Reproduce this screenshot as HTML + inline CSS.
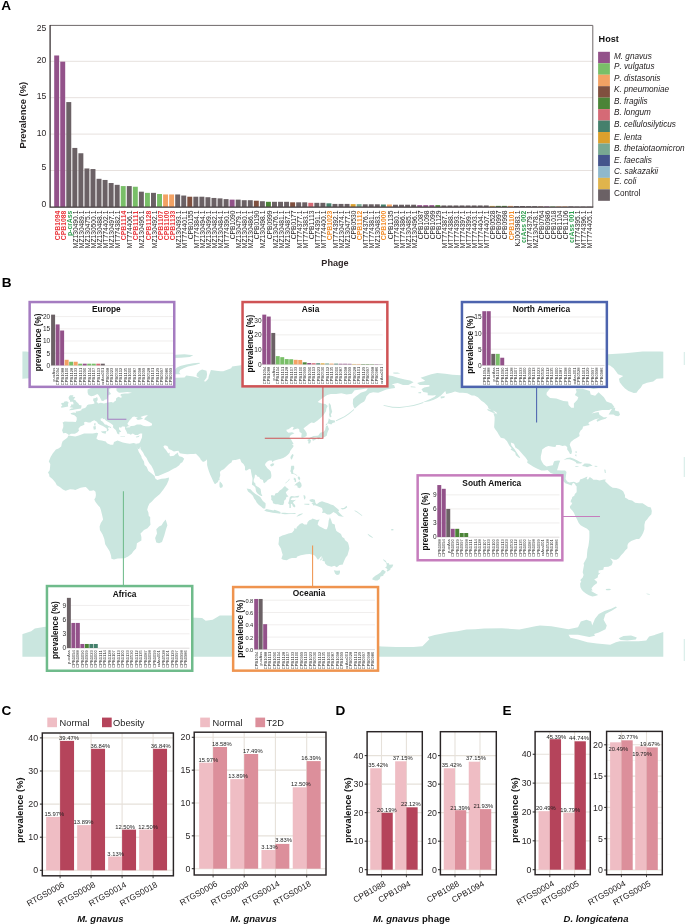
<!DOCTYPE html>
<html><head><meta charset="utf-8"><title>Figure</title>
<style>html,body{margin:0;padding:0;background:#fff}svg{display:block;will-change:transform}text{font-family:"Liberation Sans", sans-serif;font-kerning:none}</style>
</head><body>
<svg width="685" height="924" viewBox="0 0 685 924">
<rect width="685" height="924" fill="#fff"/>
<g id="panelA">
<text x="1.2" y="9.9" font-size="13.6" font-weight="700" fill="#000">A</text>
<line x1="50.1" x2="592.8" y1="170.5" y2="170.5" stroke="#e7e1de" stroke-width="1"/>
<line x1="50.1" x2="592.8" y1="134.1" y2="134.1" stroke="#e7e1de" stroke-width="1"/>
<line x1="50.1" x2="592.8" y1="97.7" y2="97.7" stroke="#e7e1de" stroke-width="1"/>
<line x1="50.1" x2="592.8" y1="61.3" y2="61.3" stroke="#e7e1de" stroke-width="1"/>
<rect x="54.2" y="55.48" width="4.95" height="151.42" fill="#93528a"/>
<rect x="60.25" y="61.66" width="4.95" height="145.24" fill="#93528a"/>
<rect x="66.3" y="102.07" width="4.95" height="104.83" fill="#6b6165"/>
<rect x="72.35" y="147.93" width="4.95" height="58.97" fill="#6b6165"/>
<rect x="78.4" y="153.25" width="4.95" height="53.65" fill="#6b6165"/>
<rect x="84.45" y="168.46" width="4.95" height="38.44" fill="#6b6165"/>
<rect x="90.5" y="169.04" width="4.95" height="37.86" fill="#6b6165"/>
<rect x="96.55" y="178.8" width="4.95" height="28.1" fill="#6b6165"/>
<rect x="102.6" y="179.96" width="4.95" height="26.94" fill="#6b6165"/>
<rect x="108.65" y="183.02" width="4.95" height="23.88" fill="#6b6165"/>
<rect x="114.7" y="184.84" width="4.95" height="22.06" fill="#6b6165"/>
<rect x="120.75" y="186.08" width="4.95" height="20.82" fill="#79bf68"/>
<rect x="126.8" y="186.08" width="4.95" height="20.82" fill="#6b6165"/>
<rect x="132.85" y="186.73" width="4.95" height="20.17" fill="#79bf68"/>
<rect x="138.9" y="191.68" width="4.95" height="15.22" fill="#6b6165"/>
<rect x="144.95" y="192.85" width="4.95" height="14.05" fill="#79bf68"/>
<rect x="151" y="192.85" width="4.95" height="14.05" fill="#6b6165"/>
<rect x="157.05" y="194.01" width="4.95" height="12.89" fill="#79bf68"/>
<rect x="163.1" y="194.45" width="4.95" height="12.45" fill="#f3a264"/>
<rect x="169.15" y="194.45" width="4.95" height="12.45" fill="#f3a264"/>
<rect x="175.2" y="194.45" width="4.95" height="12.45" fill="#6b6165"/>
<rect x="181.25" y="195.54" width="4.95" height="11.36" fill="#6b6165"/>
<rect x="187.3" y="196.71" width="4.95" height="10.19" fill="#80503f"/>
<rect x="193.35" y="196.71" width="4.95" height="10.19" fill="#6b6165"/>
<rect x="199.4" y="196.71" width="4.95" height="10.19" fill="#6b6165"/>
<rect x="205.45" y="197.22" width="4.95" height="9.68" fill="#6b6165"/>
<rect x="211.5" y="197.95" width="4.95" height="8.95" fill="#6b6165"/>
<rect x="217.55" y="198.38" width="4.95" height="8.52" fill="#6b6165"/>
<rect x="223.6" y="199.11" width="4.95" height="7.79" fill="#6b6165"/>
<rect x="229.65" y="199.62" width="4.95" height="7.28" fill="#93528a"/>
<rect x="235.7" y="199.62" width="4.95" height="7.28" fill="#6b6165"/>
<rect x="241.75" y="200.2" width="4.95" height="6.7" fill="#6b6165"/>
<rect x="247.8" y="200.2" width="4.95" height="6.7" fill="#6b6165"/>
<rect x="253.85" y="200.71" width="4.95" height="6.19" fill="#80503f"/>
<rect x="259.9" y="201.22" width="4.95" height="5.68" fill="#6b6165"/>
<rect x="265.95" y="201.8" width="4.95" height="5.1" fill="#4b8437"/>
<rect x="272" y="201.8" width="4.95" height="5.1" fill="#6b6165"/>
<rect x="278.05" y="201.8" width="4.95" height="5.1" fill="#6b6165"/>
<rect x="284.1" y="201.8" width="4.95" height="5.1" fill="#6b6165"/>
<rect x="290.15" y="202.31" width="4.95" height="4.59" fill="#80503f"/>
<rect x="296.2" y="202.31" width="4.95" height="4.59" fill="#6b6165"/>
<rect x="302.25" y="202.31" width="4.95" height="4.59" fill="#6b6165"/>
<rect x="308.3" y="202.82" width="4.95" height="4.08" fill="#d56a76"/>
<rect x="314.35" y="202.82" width="4.95" height="4.08" fill="#6b6165"/>
<rect x="320.4" y="202.82" width="4.95" height="4.08" fill="#6b6165"/>
<rect x="326.45" y="203.33" width="4.95" height="3.57" fill="#45806c"/>
<rect x="332.5" y="203.92" width="4.95" height="2.98" fill="#6b6165"/>
<rect x="338.55" y="203.92" width="4.95" height="2.98" fill="#6b6165"/>
<rect x="344.6" y="203.92" width="4.95" height="2.98" fill="#6b6165"/>
<rect x="350.65" y="204.13" width="4.95" height="2.77" fill="#dba02d"/>
<rect x="356.7" y="204.13" width="4.95" height="2.77" fill="#78a892"/>
<rect x="362.75" y="204.28" width="4.95" height="2.62" fill="#6b6165"/>
<rect x="368.8" y="204.28" width="4.95" height="2.62" fill="#6b6165"/>
<rect x="374.85" y="204.28" width="4.95" height="2.62" fill="#6b6165"/>
<rect x="380.9" y="204.5" width="4.95" height="2.4" fill="#45806c"/>
<rect x="386.95" y="204.5" width="4.95" height="2.4" fill="#f3a264"/>
<rect x="393" y="204.72" width="4.95" height="2.18" fill="#6b6165"/>
<rect x="399.05" y="204.72" width="4.95" height="2.18" fill="#6b6165"/>
<rect x="405.1" y="204.72" width="4.95" height="2.18" fill="#6b6165"/>
<rect x="411.15" y="204.72" width="4.95" height="2.18" fill="#6b6165"/>
<rect x="417.2" y="205.15" width="4.95" height="1.75" fill="#93528a"/>
<rect x="423.25" y="205.15" width="4.95" height="1.75" fill="#93528a"/>
<rect x="429.3" y="205.15" width="4.95" height="1.75" fill="#93528a"/>
<rect x="435.35" y="205.15" width="4.95" height="1.75" fill="#4b8437"/>
<rect x="441.4" y="205.44" width="4.95" height="1.46" fill="#6b6165"/>
<rect x="447.45" y="205.44" width="4.95" height="1.46" fill="#6b6165"/>
<rect x="453.5" y="205.44" width="4.95" height="1.46" fill="#6b6165"/>
<rect x="459.55" y="205.44" width="4.95" height="1.46" fill="#6b6165"/>
<rect x="465.6" y="205.44" width="4.95" height="1.46" fill="#6b6165"/>
<rect x="471.65" y="205.44" width="4.95" height="1.46" fill="#6b6165"/>
<rect x="477.7" y="205.44" width="4.95" height="1.46" fill="#6b6165"/>
<rect x="483.75" y="205.44" width="4.95" height="1.46" fill="#6b6165"/>
<rect x="489.8" y="205.88" width="4.95" height="1.02" fill="#e0b44c"/>
<rect x="495.85" y="205.88" width="4.95" height="1.02" fill="#4b8437"/>
<rect x="501.9" y="205.88" width="4.95" height="1.02" fill="#4b8437"/>
<rect x="507.95" y="205.88" width="4.95" height="1.02" fill="#f3a264"/>
<rect x="514" y="206.03" width="4.95" height="0.87" fill="#6b6165"/>
<rect x="520.05" y="206.03" width="4.95" height="0.87" fill="#6b6165"/>
<rect x="526.1" y="206.17" width="4.95" height="0.73" fill="#6b6165"/>
<rect x="532.15" y="206.17" width="4.95" height="0.73" fill="#6b6165"/>
<rect x="538.2" y="206.39" width="4.95" height="0.51" fill="#80503f"/>
<rect x="544.25" y="206.39" width="4.95" height="0.51" fill="#93528a"/>
<rect x="550.3" y="206.39" width="4.95" height="0.51" fill="#79bf68"/>
<rect x="556.35" y="206.39" width="4.95" height="0.51" fill="#f3a264"/>
<rect x="562.4" y="206.39" width="4.95" height="0.51" fill="#f3a264"/>
<rect x="568.45" y="206.39" width="4.95" height="0.51" fill="#6b6165"/>
<rect x="574.5" y="206.54" width="4.95" height="0.36" fill="#6b6165"/>
<rect x="580.55" y="206.54" width="4.95" height="0.36" fill="#6b6165"/>
<rect x="586.6" y="206.54" width="4.95" height="0.36" fill="#6b6165"/>
<text transform="translate(59.78,210.6) rotate(-90)" text-anchor="end" font-size="6.85" font-weight="700" fill="#e9353b">CPB1094</text>
<text transform="translate(65.83,210.6) rotate(-90)" text-anchor="end" font-size="6.85" font-weight="700" fill="#e9353b">CPB1088</text>
<text transform="translate(71.87,210.6) rotate(-90)" text-anchor="end" font-size="6.85" font-weight="700" fill="#2f9e4f">p-crAss</text>
<text transform="translate(77.92,210.6) rotate(-90)" text-anchor="end" font-size="6.7" fill="#262223">MZ130490.1</text>
<text transform="translate(83.97,210.6) rotate(-90)" text-anchor="end" font-size="6.7" fill="#262223">MZ130489.1</text>
<text transform="translate(90.02,210.6) rotate(-90)" text-anchor="end" font-size="6.7" fill="#262223">MZ130475.1</text>
<text transform="translate(96.07,210.6) rotate(-90)" text-anchor="end" font-size="6.7" fill="#262223">MZ130500.1</text>
<text transform="translate(102.12,210.6) rotate(-90)" text-anchor="end" font-size="6.7" fill="#262223">MZ130488.1</text>
<text transform="translate(108.17,210.6) rotate(-90)" text-anchor="end" font-size="6.7" fill="#262223">MT774402.1</text>
<text transform="translate(114.22,210.6) rotate(-90)" text-anchor="end" font-size="6.7" fill="#262223">MZ130497.1</text>
<text transform="translate(120.27,210.6) rotate(-90)" text-anchor="end" font-size="6.7" fill="#262223">MT774382.1</text>
<text transform="translate(126.32,210.6) rotate(-90)" text-anchor="end" font-size="6.85" font-weight="700" fill="#e9353b">CPB1114</text>
<text transform="translate(132.38,210.6) rotate(-90)" text-anchor="end" font-size="6.7" fill="#262223">MT774406.1</text>
<text transform="translate(138.42,210.6) rotate(-90)" text-anchor="end" font-size="6.85" font-weight="700" fill="#e9353b">CPB1111</text>
<text transform="translate(144.47,210.6) rotate(-90)" text-anchor="end" font-size="6.7" fill="#262223">MZ130495.1</text>
<text transform="translate(150.52,210.6) rotate(-90)" text-anchor="end" font-size="6.85" font-weight="700" fill="#e9353b">CPB1128</text>
<text transform="translate(156.57,210.6) rotate(-90)" text-anchor="end" font-size="6.7" fill="#262223">MZ130492.1</text>
<text transform="translate(162.62,210.6) rotate(-90)" text-anchor="end" font-size="6.85" font-weight="700" fill="#e9353b">CPB1107</text>
<text transform="translate(168.67,210.6) rotate(-90)" text-anchor="end" font-size="6.85" font-weight="700" fill="#e9353b">CPB1100</text>
<text transform="translate(174.72,210.6) rotate(-90)" text-anchor="end" font-size="6.85" font-weight="700" fill="#e9353b">CPB1133</text>
<text transform="translate(180.77,210.6) rotate(-90)" text-anchor="end" font-size="6.7" fill="#262223">MZ130493.1</text>
<text transform="translate(186.82,210.6) rotate(-90)" text-anchor="end" font-size="6.7" fill="#262223">MT774401.1</text>
<text transform="translate(192.88,210.6) rotate(-90)" text-anchor="end" font-size="6.7" fill="#262223">CPB0155</text>
<text transform="translate(198.93,210.6) rotate(-90)" text-anchor="end" font-size="6.7" fill="#262223">MT774384.1</text>
<text transform="translate(204.97,210.6) rotate(-90)" text-anchor="end" font-size="6.7" fill="#262223">MZ130494.1</text>
<text transform="translate(211.02,210.6) rotate(-90)" text-anchor="end" font-size="6.7" fill="#262223">MZ130499.1</text>
<text transform="translate(217.07,210.6) rotate(-90)" text-anchor="end" font-size="6.7" fill="#262223">MZ130482.1</text>
<text transform="translate(223.12,210.6) rotate(-90)" text-anchor="end" font-size="6.7" fill="#262223">MZ130484.1</text>
<text transform="translate(229.18,210.6) rotate(-90)" text-anchor="end" font-size="6.7" fill="#262223">MT774390.1</text>
<text transform="translate(235.22,210.6) rotate(-90)" text-anchor="end" font-size="6.7" fill="#262223">CPB1090</text>
<text transform="translate(241.27,210.6) rotate(-90)" text-anchor="end" font-size="6.7" fill="#262223">MZ130479.1</text>
<text transform="translate(247.32,210.6) rotate(-90)" text-anchor="end" font-size="6.7" fill="#262223">MZ130480.1</text>
<text transform="translate(253.38,210.6) rotate(-90)" text-anchor="end" font-size="6.7" fill="#262223">MZ130486.1</text>
<text transform="translate(259.43,210.6) rotate(-90)" text-anchor="end" font-size="6.7" fill="#262223">CPB0190</text>
<text transform="translate(265.48,210.6) rotate(-90)" text-anchor="end" font-size="6.7" fill="#262223">MZ130498.1</text>
<text transform="translate(271.53,210.6) rotate(-90)" text-anchor="end" font-size="6.7" fill="#262223">CPB0999</text>
<text transform="translate(277.58,210.6) rotate(-90)" text-anchor="end" font-size="6.7" fill="#262223">MZ130476.1</text>
<text transform="translate(283.63,210.6) rotate(-90)" text-anchor="end" font-size="6.7" fill="#262223">MZ130481.1</text>
<text transform="translate(289.68,210.6) rotate(-90)" text-anchor="end" font-size="6.7" fill="#262223">MZ130487.1</text>
<text transform="translate(295.73,210.6) rotate(-90)" text-anchor="end" font-size="6.7" fill="#262223">CPB0177</text>
<text transform="translate(301.78,210.6) rotate(-90)" text-anchor="end" font-size="6.7" fill="#262223">MT774377.1</text>
<text transform="translate(307.83,210.6) rotate(-90)" text-anchor="end" font-size="6.7" fill="#262223">MT774383.1</text>
<text transform="translate(313.88,210.6) rotate(-90)" text-anchor="end" font-size="6.7" fill="#262223">CPB1113</text>
<text transform="translate(319.93,210.6) rotate(-90)" text-anchor="end" font-size="6.7" fill="#262223">MT774391.1</text>
<text transform="translate(325.98,210.6) rotate(-90)" text-anchor="end" font-size="6.7" fill="#262223">MT774400.1</text>
<text transform="translate(332.03,210.6) rotate(-90)" text-anchor="end" font-size="6.85" font-weight="700" fill="#f28c28">CPB1023</text>
<text transform="translate(338.08,210.6) rotate(-90)" text-anchor="end" font-size="6.7" fill="#262223">MT774392.1</text>
<text transform="translate(344.12,210.6) rotate(-90)" text-anchor="end" font-size="6.7" fill="#262223">MZ130474.1</text>
<text transform="translate(350.18,210.6) rotate(-90)" text-anchor="end" font-size="6.7" fill="#262223">MZ130477.1</text>
<text transform="translate(356.23,210.6) rotate(-90)" text-anchor="end" font-size="6.7" fill="#262223">CPB0530</text>
<text transform="translate(362.28,210.6) rotate(-90)" text-anchor="end" font-size="6.85" font-weight="700" fill="#f28c28">CPB1112</text>
<text transform="translate(368.33,210.6) rotate(-90)" text-anchor="end" font-size="6.7" fill="#262223">MT774376.1</text>
<text transform="translate(374.38,210.6) rotate(-90)" text-anchor="end" font-size="6.7" fill="#262223">MT774381.1</text>
<text transform="translate(380.43,210.6) rotate(-90)" text-anchor="end" font-size="6.7" fill="#262223">MZ130483.1</text>
<text transform="translate(386.48,210.6) rotate(-90)" text-anchor="end" font-size="6.85" font-weight="700" fill="#f28c28">CPB1000</text>
<text transform="translate(392.53,210.6) rotate(-90)" text-anchor="end" font-size="6.7" fill="#262223">CPB1135</text>
<text transform="translate(398.58,210.6) rotate(-90)" text-anchor="end" font-size="6.7" fill="#262223">MT774380.1</text>
<text transform="translate(404.62,210.6) rotate(-90)" text-anchor="end" font-size="6.7" fill="#262223">MT774386.1</text>
<text transform="translate(410.68,210.6) rotate(-90)" text-anchor="end" font-size="6.7" fill="#262223">MZ130485.1</text>
<text transform="translate(416.73,210.6) rotate(-90)" text-anchor="end" font-size="6.7" fill="#262223">MZ130496.1</text>
<text transform="translate(422.78,210.6) rotate(-90)" text-anchor="end" font-size="6.7" fill="#262223">CPB1087</text>
<text transform="translate(428.83,210.6) rotate(-90)" text-anchor="end" font-size="6.7" fill="#262223">CPB1098</text>
<text transform="translate(434.88,210.6) rotate(-90)" text-anchor="end" font-size="6.7" fill="#262223">CPB1099</text>
<text transform="translate(440.93,210.6) rotate(-90)" text-anchor="end" font-size="6.7" fill="#262223">CPB1129</text>
<text transform="translate(446.98,210.6) rotate(-90)" text-anchor="end" font-size="6.7" fill="#262223">MT774387.1</text>
<text transform="translate(453.03,210.6) rotate(-90)" text-anchor="end" font-size="6.7" fill="#262223">MT774388.1</text>
<text transform="translate(459.08,210.6) rotate(-90)" text-anchor="end" font-size="6.7" fill="#262223">MT774393.1</text>
<text transform="translate(465.12,210.6) rotate(-90)" text-anchor="end" font-size="6.7" fill="#262223">MT774397.1</text>
<text transform="translate(471.18,210.6) rotate(-90)" text-anchor="end" font-size="6.7" fill="#262223">MT774399.1</text>
<text transform="translate(477.23,210.6) rotate(-90)" text-anchor="end" font-size="6.7" fill="#262223">MT774403.1</text>
<text transform="translate(483.28,210.6) rotate(-90)" text-anchor="end" font-size="6.7" fill="#262223">MT774404.1</text>
<text transform="translate(489.33,210.6) rotate(-90)" text-anchor="end" font-size="6.7" fill="#262223">MT774407.1</text>
<text transform="translate(495.38,210.6) rotate(-90)" text-anchor="end" font-size="6.7" fill="#262223">CPB0528</text>
<text transform="translate(501.43,210.6) rotate(-90)" text-anchor="end" font-size="6.7" fill="#262223">CPB0997</text>
<text transform="translate(507.48,210.6) rotate(-90)" text-anchor="end" font-size="6.7" fill="#262223">CPB0998</text>
<text transform="translate(513.52,210.6) rotate(-90)" text-anchor="end" font-size="6.85" font-weight="700" fill="#f28c28">CPB1101</text>
<text transform="translate(519.58,210.6) rotate(-90)" text-anchor="end" font-size="6.7" fill="#262223">KJ003983.1</text>
<text transform="translate(525.62,210.6) rotate(-90)" text-anchor="end" font-size="6.85" font-weight="700" fill="#2f9e4f">crAss 002</text>
<text transform="translate(531.68,210.6) rotate(-90)" text-anchor="end" font-size="6.7" fill="#262223">MT774379.1</text>
<text transform="translate(537.73,210.6) rotate(-90)" text-anchor="end" font-size="6.7" fill="#262223">MZ130478.1</text>
<text transform="translate(543.78,210.6) rotate(-90)" text-anchor="end" font-size="6.7" fill="#262223">CPB0764</text>
<text transform="translate(549.83,210.6) rotate(-90)" text-anchor="end" font-size="6.7" fill="#262223">CPB0986</text>
<text transform="translate(555.88,210.6) rotate(-90)" text-anchor="end" font-size="6.7" fill="#262223">CPB1018</text>
<text transform="translate(561.93,210.6) rotate(-90)" text-anchor="end" font-size="6.7" fill="#262223">CPB1104</text>
<text transform="translate(567.98,210.6) rotate(-90)" text-anchor="end" font-size="6.7" fill="#262223">CPB1106</text>
<text transform="translate(574.03,210.6) rotate(-90)" text-anchor="end" font-size="6.85" font-weight="700" fill="#2f9e4f">crAss 001</text>
<text transform="translate(580.08,210.6) rotate(-90)" text-anchor="end" font-size="6.7" fill="#262223">MT774395.1</text>
<text transform="translate(586.13,210.6) rotate(-90)" text-anchor="end" font-size="6.7" fill="#262223">MT774396.1</text>
<text transform="translate(592.18,210.6) rotate(-90)" text-anchor="end" font-size="6.7" fill="#262223">MT774405.1</text>
<path d="M50.1 25.4H592.8V207.1" fill="none" stroke="#6e686a" stroke-width="1"/>
<path d="M50.1 24.9V207.1H593.3" fill="none" stroke="#3c3537" stroke-width="1.3"/>
<text x="46.2" y="30.55" text-anchor="end" font-size="8.6" fill="#2b2627">25</text>
<text x="46.2" y="62.65" text-anchor="end" font-size="8.6" fill="#2b2627">20</text>
<text x="46.2" y="99.45" text-anchor="end" font-size="8.6" fill="#2b2627">15</text>
<text x="46.2" y="135.85" text-anchor="end" font-size="8.6" fill="#2b2627">10</text>
<text x="46.2" y="170.05" text-anchor="end" font-size="8.6" fill="#2b2627">5</text>
<text x="46.2" y="207.45" text-anchor="end" font-size="8.6" fill="#2b2627">0</text>
<text transform="translate(26.1,115.2) rotate(-90)" text-anchor="middle" font-size="9.4" font-weight="700" fill="#231f20">Prevalence (%)</text>
<text x="335" y="266" text-anchor="middle" font-size="9.1" font-weight="700" fill="#2e2526">Phage</text>
<text x="598.6" y="42.3" font-size="9.1" font-weight="700" fill="#111">Host</text>
<rect x="598.1" y="51.8" width="11.8" height="11.5" fill="#93528a"/>
<text x="614" y="58.9" font-size="8.2" font-style="italic" fill="#1f1b1c">M. gnavus</text>
<rect x="598.1" y="63.26" width="11.8" height="11.5" fill="#79bf68"/>
<text x="614" y="68.9" font-size="8.2" font-style="italic" fill="#1f1b1c">P. vulgatus</text>
<rect x="598.1" y="74.72" width="11.8" height="11.5" fill="#f3a264"/>
<text x="614" y="80.6" font-size="8.2" font-style="italic" fill="#1f1b1c">P. distasonis</text>
<rect x="598.1" y="86.18" width="11.8" height="11.5" fill="#80503f"/>
<text x="614" y="91.8" font-size="8.2" font-style="italic" fill="#1f1b1c">K. pneumoniae</text>
<rect x="598.1" y="97.64" width="11.8" height="11.5" fill="#4b8437"/>
<text x="614" y="103.6" font-size="8.2" font-style="italic" fill="#1f1b1c">B. fragilis</text>
<rect x="598.1" y="109.1" width="11.8" height="11.5" fill="#d56a76"/>
<text x="614" y="115.4" font-size="8.2" font-style="italic" fill="#1f1b1c">B. longum</text>
<rect x="598.1" y="120.56" width="11.8" height="11.5" fill="#45806c"/>
<text x="614" y="127.3" font-size="8.2" font-style="italic" fill="#1f1b1c">B. cellulosilyticus</text>
<rect x="598.1" y="132.02" width="11.8" height="11.5" fill="#dba02d"/>
<text x="614" y="139.7" font-size="8.2" font-style="italic" fill="#1f1b1c">E. lenta</text>
<rect x="598.1" y="143.48" width="11.8" height="11.5" fill="#78a892"/>
<text x="614" y="151.2" font-size="8.2" font-style="italic" fill="#1f1b1c">B. thetaiotaomicron</text>
<rect x="598.1" y="154.94" width="11.8" height="11.5" fill="#44548c"/>
<text x="614" y="162.7" font-size="8.2" font-style="italic" fill="#1f1b1c">E. faecalis</text>
<rect x="598.1" y="166.4" width="11.8" height="11.5" fill="#8fb8cc"/>
<text x="614" y="173.6" font-size="8.2" font-style="italic" fill="#1f1b1c">C. sakazakii</text>
<rect x="598.1" y="177.86" width="11.8" height="11.5" fill="#e0b44c"/>
<text x="614" y="184.4" font-size="8.2" font-style="italic" fill="#1f1b1c">E. coli</text>
<rect x="598.1" y="189.32" width="11.8" height="11.5" fill="#6b6165"/>
<text x="614" y="196.3" font-size="8.2" fill="#1f1b1c">Control</text>
</g>
<text x="1.8" y="286.9" font-size="13.6" font-weight="700" fill="#000">B</text>
<defs><clipPath id="mapclip"><rect x="22.4" y="351.0" width="640.9" height="305.8"/></clipPath></defs>
<g id="map" clip-path="url(#mapclip)">
<path fill="#cae6df" d="M68.4 435.4L75.3 436.4L78.8 435.4L84.1 433.6L92.9 433.5L96.4 432.8L98.2 433.3L97.3 435.9L96.4 438.6L98.2 440L101.7 440.5L105.8 441.6L107 443.3L110.5 444.7L113.2 444.7L114 442.1L117.6 440.5L122.8 442.4L126.4 443.3L129.9 443.8L133.4 443L135.7 443.5L136.1 445.6L137.8 449.1L138.7 451.8L141.4 456.2L141.7 457.9L144 461.4L144.5 465L146.6 466.7L148.4 471.1L151 472.9L154.6 476L155.1 478.2L157.2 479.9L161.6 478.7L165.1 478.5L169 477.6L168.7 480.1L166.9 484.3L163.4 489.6L159.9 494L154.6 498.4L151.9 501.6L149.3 503.7L148 506.7L147.2 509.8L148.4 512.5L148.8 516L150.2 516.9L150.2 521.3L150.5 524.8L147.5 528.3L144 530.1L140.5 533.6L141.4 537.1L141.4 540.6L136.9 543.3L136.6 545.9L136.1 548.6L133.4 551.2L131.7 553.8L128.1 556.5L124.6 558.2L117.6 558.6L114 559.6L111.4 558.8L111 555.6L109.6 551.2L107.9 548.6L105.2 544.2L104.3 538.9L102.6 534.5L99.9 530.1L99.6 526.6L100.8 523L103.1 519.5L102.1 515.1L100.8 509.8L99.9 507.2L98.2 505.4L95.5 501.9L94.3 499.6L95.5 497.5L95.9 494.9L95.5 491.7L93.8 490.3L91.1 490.7L89.4 490.8L87.6 488.7L85.8 487.1L83.2 487.3L80.6 487.8L77 489.2L75.3 490L73.5 489.4L70 489.2L65.6 490.7L62.9 489.6L59.8 487L56.8 485.2L55.4 482.6L53.3 479.9L52.4 479L49.4 476.6L49.2 474.6L48 472.5L49.7 470.2L50.1 466.7L50.3 464.1L48.8 461.4L50.6 457L52.7 453.5L55.9 449.6L58.5 448.6L61.2 446.5L61.7 443.8L62.6 441.2L65.6 439.1L67.3 437.7ZM165.7 519.5L167.4 525.3L166 529.2L164.3 535.4L162 542L159 543.3L156.3 542.4L155.1 538L157 533.6L156.3 529.2L159 526.6L161.6 525.2L163.4 522.2ZM62.1 430.3L63.1 433.3L65.8 432.9L67.7 434L68.9 435L71 433.8L74.9 433.8L77.6 432.2L79.2 430.3L78.3 428.9L80.2 426.6L84.4 424.7L84.1 422.2L85.8 421.8L88.3 422.4L90.4 422.5L92 421.3L94.3 420.3L96.9 421.8L98.2 423.8L100.5 425L102.9 425.9L105.2 427.6L106.5 428.2L107 430.1L106.5 431.5L107.9 431L108.9 429.8L108 428.4L108.8 427.1L111.2 428.2L111 427.1L107.9 425.7L107 424.7L104.9 424.5L102.8 421.8L100.8 420.6L100.5 418.7L102.8 418L102.8 419.2L104.3 418.8L105.8 420.6L107.9 421.8L110.2 423.1L112.3 424.5L113.2 425.4L113 427.3L114 428.5L115.8 430.1L116.3 431L116.9 432.4L117.2 433.6L118.4 434.2L119.5 434.2L119.1 432.4L120.2 431.9L121.3 432L120.4 430.8L119 429.2L119 427.3L120.2 427.6L121.1 427.8L122 426.4L124.6 426.4L125.1 427.6L125 428.9L126 430.6L126.9 432.4L127.3 433.8L129 433.8L130.8 434.7L132.7 433.6L135.2 434.9L137.8 434.9L140.1 433.6L142.2 433.6L142.1 435.9L141.9 437.7L140.8 440.3L140.1 442.1L139.2 443.3L136.1 443.7L136.1 445.6L137.3 448.2L139.1 449.6L140.3 446.5L140.5 449.1L143.1 452.6L144.5 455.6L146.6 457.9L147.7 460.6L149.3 463.2L151.4 465.8L153.3 469.4L154.2 472L155.1 475L155.4 476L158.1 475.9L161.6 474.6L165.1 472.9L168.7 471.5L170.8 470.2L173.9 468.5L176.2 467.6L179.2 465.3L180.6 463.2L182.4 462.3L184.2 458.8L182.2 456.9L179.2 456.2L178.2 454.4L178 452.1L177.5 453L175.7 453.9L173.9 455.8L170.4 456.2L169.5 455.3L169.7 452.6L168.3 453.5L167.1 451.8L166 450L164.3 448.2L163.4 446.5L164.3 445.6L166 445.4L167.8 446.5L168.7 449.1L171.3 450L173.9 451.4L176.6 450.9L178.4 450.7L179.8 453.2L182.8 453.7L187.2 454.2L190.7 453.9L193.3 453.9L196 453.7L196.9 454.8L198.6 456.5L199.5 457.6L200.4 458.8L200.4 459.3L202.7 461.8L203.9 461.8L206 460.6L206.7 459.2L207.1 461.4L207.1 465L208 468.5L208.8 471.1L210.1 474.6L211.5 477.6L213.2 481.2L214.5 483.8L215.4 484.1L216.6 482.9L218 482L218.5 480.3L219.6 480.3L219.4 478.2L220.3 475.3L219.9 472L221.2 470.6L223.8 469.2L226.8 466.2L229.1 463.9L231.7 462.3L232.1 460.6L234.2 460L235.6 459.9L238.3 459.2L240 458.8L240.9 460.9L241.4 462.3L243.5 464.1L245 466.7L245 470.2L246.7 470.6L249.4 468.8L250.8 469.4L251.1 472L251.8 475.5L252.5 478.2L252.4 480.8L252 483.4L252 484.7L254.1 486.1L255.5 487.8L255.7 489.6L256.2 491.7L257.5 493.5L259.4 494.9L261.2 496.1L262.4 495.9L261.2 493.5L261 491.4L260.6 489.1L258.9 487.5L256.8 486.3L255.5 485.2L255.4 483.4L253.8 482L253.6 479.9L254.6 477.6L255 474.6L256.8 475.2L256.8 476.2L259.1 476.9L260.3 478.9L262.9 480.1L263.5 482.6L264.2 483.3L266.5 481.5L267.7 480.1L270.9 478.3L271.4 475.9L271.2 473.9L270.7 471.5L269.4 469.9L267.3 468.3L266.3 466.7L265 465L265.6 463.2L267.3 461.6L269.1 460.4L271.7 460.4L272.6 462.5L273.5 460.9L276.1 460L278.8 459.3L280.2 459L283.2 458.1L285.8 456.5L287.9 454.8L289.5 453L290.2 450.9L292 448.6L293.4 446.8L293.4 445.2L291.6 444.7L293.6 444L292.5 442.1L291.1 439.4L289.4 437.2L290.8 435L294.5 433.3L292 432.2L288.5 432.8L286.7 431.2L286.4 429.8L288.5 429.2L292 426.8L293.8 427.1L292.5 429.8L294.1 429.4L297.3 428.4L299.1 428.9L299.6 431.9L301.7 433.3L301.3 436.8L301.7 437.9L304.3 437.2L306.6 435.9L306.8 433.3L305.2 430.6L303.5 428.5L305.2 427.1L307.3 425.4L309.1 424L311.4 422.4L314 423.1L317.6 420.4L321.1 417.4L323.7 414.8L326 411.3L326.4 408.6L327.8 406L325.5 403.9L322 403.4L320.2 403L317.6 402.1L320.2 399.8L323.7 397.2L327.2 395.1L330.8 394L336.1 394L341.3 393.3L346.6 394.6L351.9 393.7L354.6 390.2L360.7 389.6L366 388.4L367.8 388.4L366 391L360.7 392.8L355.4 396.7L353.1 399L352.8 403.4L353.7 406.9L354.9 408.6L357.7 406L360.7 403.4L364.2 401.6L365.5 399.3L366.5 396.3L369.5 393.2L373.1 392.3L378.3 392.8L382.7 391L386.3 389.6L391.6 388.4L395.1 388L394.2 385.2L391.6 384.4L395.1 383.6L397.7 383.1L403 384.9L408.3 384.9L413.6 382.2L410.1 380.5L404.8 379.6L397.7 377.8L392.4 376.1L387.2 375.2L379.2 375.2L378.3 377L371.3 376.1L364.2 375.7L360.7 375.7L355.4 373.4L346.6 373.4L343.1 371.7L334.3 370.8L325.5 370.4L320.2 372.6L313.1 372.6L307.9 373.4L305.2 370.8L300.8 369L295.5 369.4L288.5 369.7L281.4 368.7L278.8 367.3L276.1 364.6L269.1 362.9L262.6 361.6L256.8 363.8L249.7 364.6L240.9 365.2L232.1 366.4L231.2 368.2L223.3 371.3L220.6 371.2L216.2 370.8L210.9 370.1L210.1 372.6L208.8 376.1L208.3 378.7L205.7 381.4L203.9 381.2L206.5 377.8L207.1 374.3L206.5 370.8L202.1 369.6L199.5 370.8L196.9 373.4L196.5 376.1L199.5 378.2L193.3 376.6L186.3 375.6L184.5 377.5L175.7 377.8L173.1 378.2L166.9 378.7L160.7 378.7L157.2 377.8L155.1 377.7L156.3 380.5L156.3 381.9L152.8 381.4L149.3 383.1L150.2 384.9L145.8 385.4L143.1 385.8L140.5 385.1L139.6 383.1L136.9 381.4L140.5 381.7L145.8 382.2L151 381L151 379.6L145.8 377.8L140.5 376.6L136.9 376.3L133.4 374.7L128.1 373.4L124.3 373.3L117.6 374.3L112.3 375.6L107 377.5L104.3 379.6L101.7 382.2L99.1 384.5L95.5 386.6L91.1 387.9L87.6 389.6L87.6 392.8L88.5 394.9L91.1 396.3L93.8 395.8L97.3 394L98.5 395.1L99.6 396.8L101.2 399.8L101.7 400.9L104 400.7L104.5 399.7L107 399.3L108 397.2L108.4 395.3L111 393.9L109.3 391.6L109.3 389.3L111.4 387.5L114.9 386.1L116.7 384L118.1 382.6L121.4 382.6L123.4 384L122 384.9L118.4 387L116.3 388.4L116.7 391L119 392.8L122.8 392.4L127.3 391.9L132 392.8L128.1 393.5L124.6 393.5L121.1 393.9L120.2 395.3L121.6 396L121.3 397.9L118.4 396.8L116.2 398.3L115.8 400.7L114 401.8L113.2 402.7L111.4 402.1L107.9 402.5L104 403.4L100.8 402.8L98.2 403.4L97.8 402.7L96.4 402L97.3 400.7L97.8 399.1L97.1 397.2L97.5 396.8L95.5 397.9L93.2 398.6L93.2 400.7L94.1 401.8L94.5 403.4L92.9 404.1L91.1 404.2L88.5 404.6L87.1 405.3L86.2 406.9L85 407.9L83.2 408.5L81.6 409L81.4 410.2L79.2 411.1L76.7 411.5L75.8 410.9L76 412.7L73.5 412.5L70.5 413.2L71.2 414.3L74.4 415.2L75.3 416L76.7 417.4L76.7 419.9L75.8 422L72.6 421.8L68.6 421.7L64.7 421.5L62.6 422.5L63.3 424.5L63.3 427.1ZM68.8 410.2L72.6 409.9L76.2 409.2L81.1 408.5L81.6 405.6L79.3 405.1L78.4 403.4L76.2 401.6L75.3 400L73.5 399.8L75.3 397L72.6 396.8L73.5 395.3L70 395.3L68.6 397.2L68.9 399.3L70 400.2L70 401.8L73 401.8L73.5 403.5L73.3 404.6L70.9 404.6L71.2 405.8L69.6 407.2L72.6 407.8L73.5 408.3L71.2 408.5ZM68.2 406.5L67.9 404.4L68.6 402.3L66.8 401.2L64.4 401.4L63.8 402.7L61.2 403L61.5 404.6L62.4 405.6L60.7 406.9L61.7 407.8L64.4 407.2ZM36.5 383.1L40 381.5L47.1 381.9L52.4 381.7L54.8 384L51.5 385.4L45.7 386.8L39.2 385.9L40 384.4ZM100.8 431.5L106.3 431L105.6 433.8L102.6 432.9ZM93.2 426.4L95.7 425.9L95.9 429.2L93.8 429.8ZM94 423.8L95.5 422.7L95.5 425.5L94.3 425.4ZM120.4 435.9L125.1 436.3L125 436.8L120.4 436.4ZM135.7 436.8L139.8 435.6L138.7 437L136.4 437.5ZM309.4 438.6L312.3 438L314.9 437.3L317.2 437.5L318.1 439.4L320 437.9L320.2 437.3L323.2 437.5L325.1 436.8L326.9 435.6L327.2 433.3L328.1 431L329 428.9L328.1 427.1L327.9 425.5L326 425.9L325.5 428L325.1 430.1L323.4 431.9L320.7 432.4L319.7 433.6L318.4 435.6L317.2 435.7L313.5 435.9L311.4 437L309.4 437.9ZM325.5 425.4L326 424L327.8 422.4L328.5 420.1L328.7 418.3L330.8 420.1L334.8 420.4L335.2 422.2L332.5 422.9L331.3 424.5L328.1 423.6L326.7 423.6L327.2 424.8ZM307.9 439.4L309.6 438.7L311 440.3L310.5 442.4L309.1 443.8L308.2 443.3L308.4 441.2L307.3 440.3ZM312.3 438.7L315.8 438.2L316.1 438.9L315.3 439.8L313.1 440.7L312.3 440ZM329 402.8L330.8 405.1L331.3 408.6L332.2 411.8L330.8 414.8L331.6 416.6L329.9 417.4L329 414.8L329.4 412.2L329 408.6L328.7 405.1ZM292.9 454L293.6 455.3L292.5 457.9L291.6 459.7L290.4 457.9L290.8 456.2L292 454.4ZM270.3 464.6L272.6 463.2L274.4 463.7L273.5 465.5L271.7 466.4L270.3 465.8ZM219.8 481.2L221.9 483.4L222.9 485.6L222.4 487.3L220.6 488L219.6 487L219.4 484.3ZM246.7 488.5L250.6 489.2L252.7 491.7L255.5 494L257.6 495.2L260.3 497L261.7 499.3L262.9 501L265.6 503.3L265.6 505.4L265.2 508.6L263.1 508.6L261.2 506.8L258.9 505.1L256.8 502.8L255.5 500.2L254.1 498.4L252.9 495.8L250.6 493.5L248 491.4ZM264.2 510.4L266.5 509L270 509.8L273.5 510.4L274.4 509.7L277.4 510.7L280.5 512.1L280.5 513.7L277 513.2L272.6 512.7L269.1 512.1L266.5 511.4ZM281.4 512.8L285 512.8L288.5 513.2L292 513.2L295.5 513L295.5 513.9L290.2 514.1L285 514.2L281.4 513.7ZM296.4 516.5L299.1 514.2L302.6 513.2L302.6 513.9L299.9 515.5L297.3 516.5ZM270.9 495.8L271.4 497.9L271.2 499.8L272.6 501L273 503.3L275.6 504.2L277.9 504.2L280.5 505.1L283.2 505.1L284.1 502.8L284.1 500.7L285.8 499.3L286.4 497L288.5 496.6L286.7 494.4L285.8 492.2L287.6 490.5L288.8 489.2L286.4 487.5L285 486.1L283.5 487.3L282 489.1L279.7 490.5L277.9 492.8L275.3 493.6L274.7 495.4L273.1 495.4L271.9 494.9ZM289.9 497L291.6 496.1L294.6 496.6L298.2 495.8L299.4 495.8L298.2 497.5L295.5 497.5L292 497.7L290.6 499.8L292.9 500.2L296.1 499.8L293.8 501.6L292.9 502.8L294.6 504.6L295.5 506.3L294.3 507.6L292.9 506.3L292 504L290.8 503.7L290.9 506.3L290.8 508.1L289.4 508.1L289.4 504.6L288.1 503.2L289 501ZM303.5 494.9L305.2 495.8L305.6 497.9L304.3 499.8L303.8 497.5ZM304.3 503.7L309.3 503.7L309.3 504.9L304.3 504.6ZM309.6 499.8L312.3 499.1L314.9 499.8L315.4 502.8L316.7 504.2L319.3 502.3L322 501.2L325.5 502.6L328.1 503.2L330.8 504.4L333.4 505.3L335.7 507.2L337.8 509L339.2 510.2L338.2 511.6L340.5 513.9L343.1 516.4L344.5 516.9L341.3 516.5L338.7 516L336.1 513.4L333.4 512L331.6 513.4L329.9 514.6L327.2 514.4L324.6 512.7L322 513L322.8 510.7L322 508.1L318.4 506.5L314.9 505.3L313.1 505.4L312.8 504.2L311.4 503.3L314 502.4L311.9 502.3L309.6 500.9ZM340.5 508.3L344 508.1L346.6 505.8L347.2 507.2L344.9 509L342.2 509.5ZM291.3 465.8L294.1 465.8L294.3 468.5L293.1 470.6L293.2 473.2L295.5 474.1L297.3 475.5L297.1 475.9L295.2 474.5L293.2 474.1L291.5 474.1L291.1 472.5L290.2 471.1L290.8 469.9L290.9 467.6ZM293.8 486.1L296.4 483.3L299.6 481.3L301.3 483.4L301.7 486.1L300.8 487.3L299.9 488.2L297.6 487.5L297.3 485.7L294.6 485ZM297.8 476.4L299.6 476.8L300.3 479L299.1 480.4L298.5 479.2L297.8 478.2ZM293.8 477.6L295.5 478.2L296.1 479.9L296.1 482L294.6 481.7L294.6 479.9L293.8 479.9ZM285.5 483.4L289.4 479.9L289.4 478.5L288.1 480.4L285.3 483.1ZM279.1 537.1L280 536.8L282.3 535.4L285 534.7L288.5 533.6L292 532.7L294.3 530.1L294.1 528.3L296.4 528.8L296.8 527.1L298.2 525.7L299.9 523.9L302.2 523L304.3 524.4L307 524.6L307.5 522.2L309.3 520.2L311.4 519.5L312.6 518.6L316.7 519.9L319.7 519.5L318.4 521.8L317.6 524.4L319.3 526.2L322.8 528L325 529.2L326.9 529.2L328.1 525.7L328.5 522.2L328.7 520.4L329.9 517.2L331.3 520.4L332.2 523.6L334.8 524.6L335.2 527.4L336.4 531L338.7 532.5L341 534.1L342.2 537.1L344.5 538.5L344.9 540.1L347.9 542.4L348.7 545L349.4 548.6L348.4 552.1L347.5 555.2L345.7 557.4L344.3 560.4L343.1 563.5L342.9 564.4L339.6 565.1L336.8 567.2L334.3 565.8L331.6 566.7L327.2 565.6L325.1 563.5L324.6 561.2L322.3 560.9L322.8 559.5L321.8 556.5L321.6 560L319.8 560.5L321.1 557.9L321.6 555.8L318.4 559.6L317.6 559.6L315.8 556.8L314 555.1L309.6 554L306.1 554.2L300.8 555.2L297.3 556.5L296.4 558.1L292 558.1L289.4 558.8L286.7 560.2L283.2 559.8L281.4 558.8L281.8 557.4L282.7 554.7L281.8 552.1L280.9 548.6L279.7 546.4L278.4 544.2L278.8 541.5ZM333.8 570.2L336.9 570.7L339.9 570.4L340.1 572.3L339.2 574.4L336.9 575.1L335.2 573.7L334.6 572.3ZM383.1 558.9L385.9 560.9L386.8 563.2L388.6 563L389.4 564.8L392.4 564.6L393.3 564.8L392.1 567.4L390.7 568.1L390.3 569.7L387.7 571.6L386.6 571.1L387.5 569.2L386.3 568.3L385 567.6L386.4 566.7L386.8 564.9L385.9 562.6L383.6 560.4ZM383.1 569.7L385.9 571.8L384.5 573.7L383.1 575.1L383.6 575.7L380.6 576.4L379.7 579L377.5 580.4L375.3 580.4L372.2 579.4L372.7 578L375.3 575.8L378.3 574.1L380.6 572.3L381.9 570.2ZM367.8 533.8L370.4 535.4L373.1 537.6L372.2 537.8L369.5 536.2L367.8 534.5ZM391.2 529L393.3 529L393.5 530.3L391.4 530.4ZM354.6 510.2L357.2 511.6L360.7 514.2L362.5 515.6L361.6 515.8L357.2 512.5L354.6 510.9ZM417.1 382.9L420.6 381.9L424.2 381.2L425 380.5L420.6 377.8L425.9 376.1L431.2 374.3L437.2 372.9L445.3 373.8L452.3 374.7L461.2 375.2L466.4 375.9L473.5 377L477 376.1L484.1 374.8L489.3 375.2L494.6 376.1L499.9 375.7L507 377.1L512.3 378.4L519.3 378.9L522.8 378.4L528.1 378.7L535.2 379.1L540.4 377.8L544 378.4L544.8 376.1L547.5 372L551 374.3L554.5 377.3L558.1 378.7L562.5 376.1L568.6 376.1L569.5 377.8L567.8 380.5L563.4 381.7L559.8 383.1L558.9 384.9L554.5 386.1L550.1 388.4L546.6 392.8L546.6 394.9L550.1 398.1L556.3 398.4L563.4 401.1L568.1 401.6L568.6 405.1L571.3 407.8L573.9 407.8L573.9 403.4L577.4 399.8L578.3 397.2L574.8 394.9L576.6 391.9L575.7 388.8L582.7 388.8L589.8 391L590.7 394.6L595.1 395.8L598.6 392.3L603.9 397.2L606.5 401.6L611.8 403.4L614.4 406.9L609.2 409.9L602.1 409.9L595.1 411.6L591.5 413.6L598.6 412L599.5 414.8L603.9 417.4L607.4 417.1L605.6 418.7L601.2 420.1L597.2 421.8L596.5 420.1L599.5 418.3L595.1 419.2L591.5 421L588.9 422.2L588.4 423.6L589.8 425L587.1 425.5L583.1 426.6L582.4 428.9L580.6 430.6L579.2 433.3L579.6 435.9L576.6 438L573.9 439.4L570.8 442.1L569.7 444.7L571.3 448.6L572 451.8L571.3 454L570 454L569 452.1L567.2 449.5L567.2 447L565.1 445.4L562.5 446L559.5 444.9L556.3 445.1L555.4 447L552.8 446.8L548.4 446L545.7 447L542.2 449.5L541.7 452.6L540.8 456.2L540.8 459.2L541.9 461.8L543.6 464.6L546.4 466.4L550.1 465.7L552.8 465.3L553.7 462.3L554.5 461.1L558.1 460.4L560.2 460.7L558.9 464.1L558.1 467.1L557 470.2L561.6 470.4L565.1 470.6L566.5 472L566 475.5L565.6 479L567.2 481.5L569.5 482.6L572.2 482L573.9 481.7L576.7 483.1L575.9 485.7L574.8 483.8L573 482.7L571.6 485.6L569.5 484.8L566.9 483.8L565.6 483.4L563.4 481.2L561.9 479.2L558.9 475.7L558.1 475.2L554.5 474.3L550.7 472.9L547.5 470.1L544.8 470.6L541.3 470.4L536.9 468.5L533.4 466.7L529.9 464.6L527.2 462.7L527.6 460.6L525.5 457.4L522.8 454.4L520.4 451.8L518.4 449.5L515.4 447.4L514 443.8L510.8 442.6L511.4 445.6L514.4 449.1L516.7 452.6L518.8 455.8L520.2 457.6L519.3 458.1L515.8 455.3L515.2 452.6L512.3 450.5L510.5 449.5L511.7 448.2L509.3 445.6L507 441.2L504.3 438.6L500.8 437.7L498.5 434.2L497.3 431.9L495 428.9L494.1 427.3L494.3 424.5L494.6 420.1L494.6 417.1L493.4 413.2L496.4 413.6L497.3 414.8L496.4 412.2L492.9 410.4L488.5 408.6L487.6 406L484.1 402.5L481.4 400.7L477.9 397.2L474.4 395.4L471.7 395.4L467.3 393.2L462.9 392.8L459.4 392.8L455 391.4L451.5 392.8L446.2 394L445.3 391L442.7 393.7L440.9 395.4L437.4 398.1L433.8 399.8L429.4 401.2L425 402.1L422.7 402.3L426.8 400.4L430.3 399L434.7 396.7L436 394.9L433 395.4L427.7 395.3L427.7 392.8L423.3 391.9L421.5 389.3L424.2 387.5L429.4 386.6L429.4 384.9L425.9 384.9L419.7 384.9ZM487.1 409L492.3 410L495.5 413.2L492.9 412.7L487.9 410.4ZM608.6 414.4L612.7 407.8L615.3 407.8L614.8 410.4L618.9 411.6L620.1 414.8L618.3 416.2L615.3 415.7L613.6 414.6ZM572.2 368.7L579.2 370.3L588 373.4L594.2 376.1L603.9 380.5L604.8 381.4L600.4 384L598.6 387.9L593.3 388.9L586.3 386.6L581.9 384.9L575.7 384.5L584.5 381.4L583.6 378.7L577.4 376.1L572.2 375.2L563.4 375.2L558.1 373.4L555.4 369.9L563.4 368.7ZM559.8 385.8L565.1 383.5L570.4 385.8L571.6 387L566 386.6L562.5 387ZM563.5 459.9L566.9 457.9L570.4 457.6L573.9 458.8L577.4 460.6L580.1 462L582.4 462.8L581 463.4L576.6 463.4L575.7 462L573 460.4L569.5 459.3L566.9 459.3ZM582 466L584.5 463.4L586.8 463.6L589.8 463.7L592.6 465.7L589.8 466.2L587.1 467.2L585.4 466.4ZM575.2 466L578.7 466.4L578.3 466.9L575.7 467.1ZM594.7 465.8L597.4 466L597.2 466.7L594.7 466.7ZM584.5 360.8L593.3 357.6L603.9 354.4L625 353.2L642.6 351.6L660.3 351.4L674.4 353.2L692 355L681.4 357.6L683.2 361.1L676.1 363.8L678.8 366.4L674.4 369.9L674.4 372.6L674.4 374.3L669.1 376.1L663.8 378.2L656.7 378.7L653.2 381.4L647 382.8L642.6 384.4L640.9 387.5L638.2 390.2L636.5 392.8L633.8 393L628.5 391L625 388.4L622.4 385.8L619.7 382.2L618.9 378.7L623.3 376.1L618 374.3L616.2 371.7L613.6 368.2L610 365.5L603.9 364.3L595.1 364.6L589.8 362.9ZM-49.8 360.8L-41 357.6L-30.4 354.4L-9.3 353.2L8.3 351.6L25.9 351.4L40 353.2L57.7 355L47.1 357.6L48.8 361.1L41.8 363.8L44.4 366.4L40 369.9L40 372.6L40 374.3L34.8 376.1L29.5 378.2L22.4 378.7L18.9 381.4L12.7 382.8L8.3 384.4L6.6 387.5L3.9 390.2L2.2 392.8L-0.5 393L-5.8 391L-9.3 388.4L-11.9 385.8L-14.6 382.2L-15.5 378.7L-11.1 376.1L-16.3 374.3L-18.1 371.7L-20.8 368.2L-24.3 365.5L-30.4 364.3L-39.3 364.6L-44.5 362.9ZM576.7 483.1L579.2 481.9L580.1 479.6L582.4 478.7L586.3 476.9L587.5 476.6L586.6 479L588 479.4L589.8 476.9L592.4 478.7L593.3 479.7L596.8 479.7L599.5 480.4L603.9 479.6L605.6 481.7L607.4 483.4L610 486.1L612.7 487.8L616.2 488L618.9 488.7L621.5 490.1L623.3 491.4L625 495.2L625 497.5L627.7 498.9L628.5 499.8L632.1 500.5L635.1 502.8L639.1 503.3L642.6 503.3L645.3 504.9L647.9 506.8L650.9 507.6L651.8 511.1L651.4 514.2L648.8 516.9L647 519.5L645.3 521.3L644.4 524.8L644.4 529.2L643.2 532.7L641.8 535.4L640 538L639.1 538.9L636.5 538.9L633.8 540.1L631.2 541L628.5 542.9L627.5 545L627.5 548.2L625.4 550.3L623.3 553L621.1 555.2L618.9 558.2L616.4 559.8L614.1 559.8L610.2 558.2L612.3 560.9L612.7 562.6L611.5 565.3L608.3 566.7L603.9 567L603.3 569.7L598.6 570.6L598.6 573.2L600.7 572.7L598.1 575L597.7 577.6L594.2 579.4L596.8 581.5L597.2 582.9L593.8 585.5L591.5 588.2L592.6 590.4L590.7 590.8L592.4 591.7L596.8 594.3L598.2 595L595.1 596.1L592.4 596.6L588.9 595.2L586.3 593.8L583.6 591.7L581.9 589.9L580.4 587.3L580.1 583.8L581.3 581.1L580.1 580.2L582.7 577.6L583.6 575L582.7 572.3L583.3 568.8L584 565.3L583.6 563.5L585 560.9L586.8 557.4L587.1 553L587.5 549.4L588.4 545.9L588.9 542.4L589.3 538.9L589.4 535.4L589.3 531L587.1 528.8L583.6 527.1L580.6 525.3L578.7 522.9L577.1 519.5L575.3 516L573.9 512.8L572.5 510.7L570.8 509L570 508.1L569.9 506.3L571.5 504.6L572.3 502.8L570.6 502.3L570.9 500.2L572 498.4L572.2 497L574.3 495.8L574.8 494L576.6 492.2L576.7 490.5L576.6 488.4L576.7 486.4L575.9 485.7ZM605.6 589L609.2 588.7L611.3 589.2L609.5 590.3L606.5 590.3ZM646.2 593.4L649.7 594L649.7 594.8L647 594.3ZM169.5 372L171.3 373.6L175.7 374.3L180.6 374.3L179.2 372.6L180.1 369.9L183.6 368.2L188 366.4L195.1 365L200 363.6L199.5 362.7L193.3 363.2L186.3 364.5L180.1 366L176.6 367.8L174.8 369.9L172.2 371.2ZM158.1 356.5L166.9 355.7L175.7 354.8L184.5 354.3L193.3 355.3L189.8 357.1L181 357.8L170.4 358.1L161.6 357.6ZM98.2 358.5L107 357.6L117.6 357.1L126.4 357.6L121.1 359.4L115.8 360.6L110.5 363.2L105.2 362.9L101.7 361.1ZM393.3 372.6L397.7 372.6L400.4 373.4L396 373.8L393.3 373.4ZM423.3 402.1L418.9 403.5L413.6 405.1L406.5 406.2L399.5 406.9L392.4 406.7L383.6 405.1L383.6 405.8L392.4 407.8L399.5 407.9L406.5 407.1L413.6 406L418.9 404.6L423.3 403ZM410.6 386.3L415.3 386.8L415.7 387.5L410.9 387.2ZM418.3 392.3L421.2 392.1L421 393.2L418.5 393.2ZM440.5 396.5L444.8 396.3L444.4 397.7L440.9 398.4ZM604.2 469.4L605.5 469.7L605.8 472.9L604.9 473.1ZM604.1 479.4L605.8 479.4L605.6 480.6L604.1 480.6ZM575.2 451.4L577.1 451.6L576.9 452.8L575.3 452.6ZM575.3 454.4L576.4 454.6L576.4 456.5L575.2 455.8ZM335.7 420.6L339.6 418.5L344 416.4L348.4 413.4L352.8 410L354 409L354 409.9L349.3 414.1L344.9 417.1L340.5 419.2L336.1 421.3ZM163.9 376.3L166 376.1L166.4 377.3L164.3 377.3ZM20.7 656.8L20.7 634.8L25.9 633L31.2 631.3L34.8 628.6L43.6 626.9L52.4 626L61.2 623.4L70 622.5L78.8 620.7L96.4 621.6L114 621.6L131.7 619.8L149.3 619L166.9 615.4L175.7 614.6L184.5 617.2L202.1 618.1L205.7 620.7L212.7 619.8L219.8 615.4L237.4 615.4L255 614.2L272.6 614.6L290.2 615.4L307.9 614.6L325.5 615.8L343.1 618.6L360.7 621.6L369.5 623.4L378.3 624.2L374.8 626.9L369.5 630.4L367.8 634.8L369.5 636.6L364.2 639.2L360.7 642.7L369.5 645.4L381.9 646.6L396 646.9L413.6 646.9L422.4 646.2L425.9 642.7L429.4 639.2L427.7 636.9L434.7 635L440 633.9L448.8 632.2L457.6 631.3L466.4 629.5L475.2 629.2L484.1 628.6L501.7 628.3L519.3 629.5L528.1 627.8L535.2 626.2L540 625.4L551.4 626.3L568.5 629.2L578 627.3L580.8 621.6L586.5 619.7L591.2 621.6L592.2 625.4L595 618.7L598.8 614L604.5 611.1L611.2 608.7L615.9 606.4L616.9 607.5L612.1 610.6L605.5 614L603.6 619.7L606.8 625.4L605.5 629.2L598.8 632.6L594.1 633.9L595 635.8L589.3 637.1L578 634.8L568.5 634.8L570.4 637.7L578 639.4L587.4 642.2L596.9 643.6L610.2 644.7L615.9 642.2L619.7 641.3L638.7 641.3L646.3 640.5L649.1 636.4L655.7 634.8L663.7 632.8L663.7 657.6ZM655 656.8L655 634.8L660.3 633L665.5 631.3L669.1 628.6L677.9 626.9L686.7 626L695.5 623.4L704.3 622.5L713.1 620.7L730.7 621.6L748.4 621.6L766 619.8L783.6 619L801.2 615.4L810 614.6L818.8 617.2L836.5 618.1L840 620.7L847 619.8L854.1 615.4L871.7 615.4L889.3 614.2L906.9 614.6L924.6 615.4L942.2 614.6L959.8 615.8L977.4 618.6L995 621.6L1003.8 623.4L1012.7 624.2L1009.1 626.9L1003.8 630.4L1002.1 634.8L1003.8 636.6L998.6 639.2L995 642.7L1003.8 645.4L1016.2 646.6L1030.3 646.9L1047.9 646.9L1056.7 646.2L1060.2 642.7L1063.8 639.2L1062 636.9L1069 635L1074.3 633.9L1083.1 632.2L1092 631.3L1100.8 629.5L1109.6 629.2L1118.4 628.6L1136 628.3L1153.6 629.5L1162.4 627.8L1169.5 626.2L1174.3 625.4L1185.7 626.3L1202.8 629.2L1212.3 627.3L1215.1 621.6L1220.8 619.7L1225.6 621.6L1226.5 625.4L1229.3 618.7L1233.1 614L1238.8 611.1L1245.5 608.7L1250.2 606.4L1251.2 607.5L1246.4 610.6L1239.8 614L1237.9 619.7L1241.1 625.4L1239.8 629.2L1233.1 632.6L1228.4 633.9L1229.3 635.8L1223.7 637.1L1212.3 634.8L1202.8 634.8L1204.7 637.7L1212.3 639.4L1221.8 642.2L1231.2 643.6L1244.5 644.7L1250.2 642.2L1254 641.3L1273 641.3L1280.6 640.5L1283.4 636.4L1290.1 634.8L1298 632.8L1298 657.6ZM-613.7 656.8L-613.7 634.8L-608.4 633L-603.1 631.3L-599.6 628.6L-590.8 626.9L-582 626L-573.1 623.4L-564.3 622.5L-555.5 620.7L-537.9 621.6L-520.3 621.6L-502.7 619.8L-485 619L-467.4 615.4L-458.6 614.6L-449.8 617.2L-432.2 618.1L-428.7 620.7L-421.6 619.8L-414.6 615.4L-396.9 615.4L-379.3 614.2L-361.7 614.6L-344.1 615.4L-326.5 614.6L-308.8 615.8L-291.2 618.6L-273.6 621.6L-264.8 623.4L-256 624.2L-259.5 626.9L-264.8 630.4L-266.6 634.8L-264.8 636.6L-270.1 639.2L-273.6 642.7L-264.8 645.4L-252.5 646.6L-238.4 646.9L-220.7 646.9L-211.9 646.2L-208.4 642.7L-204.9 639.2L-206.6 636.9L-199.6 635L-194.3 633.9L-185.5 632.2L-176.7 631.3L-167.9 629.5L-159.1 629.2L-150.3 628.6L-132.6 628.3L-115 629.5L-106.2 627.8L-99.2 626.2L-94.3 625.4L-82.9 626.3L-65.9 629.2L-56.4 627.3L-53.5 621.6L-47.8 619.7L-43.1 621.6L-42.1 625.4L-39.3 618.7L-35.5 614L-29.8 611.1L-23.2 608.7L-18.4 606.4L-17.5 607.5L-22.2 610.6L-28.9 614L-30.8 619.7L-27.5 625.4L-28.9 629.2L-35.5 632.6L-40.2 633.9L-39.3 635.8L-45 637.1L-56.4 634.8L-65.9 634.8L-64 637.7L-56.4 639.4L-46.9 642.2L-37.4 643.6L-24.1 644.7L-18.4 642.2L-14.6 641.3L4.4 641.3L11.9 640.5L14.8 636.4L21.4 634.8L29.4 632.8L29.4 657.6ZM618.7 638.3L623.5 636L631.1 635.4L636.8 637.5L635.8 639.6L627.3 640.4L620.6 640Z"/>
<path fill="#fff" d="M128.1 425.2L127.4 423.4L128.5 422L129.4 420.4L131.1 418.8L132.5 417.1L134.3 416.4L136.1 417.3L138 417.3L136.1 418.5L137.8 420.1L140.5 419.4L143.1 418.7L140.5 417.1L144 415.7L146.6 415.3L148 415.5L145.8 416.9L144.9 418.3L144 419.2L146.6 420.6L148.8 421.8L151.9 423.6L152.1 425.2L149.3 426.2L145.8 426.2L143.1 425.7L140.8 424.5L136.9 424.5L134.3 425.7L131.7 425.9L129.9 425.9ZM125.7 427.2L127.3 427.5L129.9 427.3L130.8 426.8L129.9 426.2L128.1 426.2L126.9 426.8Z"/>
</g>
<path d="M683.7 352h1.3v13h-1.3zM683.7 457h1.3v20h-1.3zM683.7 639h1.3v22h-1.3z" fill="#dcefeb"/>
<g id="boxes">
<path d="M107.8 387V419.3H126.4" fill="none" stroke="#a57cc1" stroke-width="1.05"/>
<rect x="29.65" y="302.05" width="144.6" height="84.8" fill="#fff" stroke="#a57cc1" stroke-width="2.5"/>
<text x="106.4" y="311.9" text-anchor="middle" font-size="8.35" font-weight="700" fill="#111">Europe</text>
<text transform="translate(41.1,342.4) rotate(-90)" text-anchor="middle" font-size="8.2" font-weight="700" fill="#111">prevalence (%)</text>
<line x1="50.6" x2="173" y1="316.6" y2="316.6" stroke="#e6e3e1" stroke-width="0.6"/>
<text x="50.2" y="319.05" text-anchor="end" font-size="6.5" fill="#2a2a2a">20</text>
<line x1="50.6" x2="173" y1="328.8" y2="328.8" stroke="#e6e3e1" stroke-width="0.6"/>
<text x="50.2" y="331.25" text-anchor="end" font-size="6.5" fill="#2a2a2a">15</text>
<line x1="50.6" x2="173" y1="341" y2="341" stroke="#e6e3e1" stroke-width="0.6"/>
<text x="50.2" y="343.45" text-anchor="end" font-size="6.5" fill="#2a2a2a">10</text>
<line x1="50.6" x2="173" y1="353.2" y2="353.2" stroke="#e6e3e1" stroke-width="0.6"/>
<text x="50.2" y="355.65" text-anchor="end" font-size="6.5" fill="#2a2a2a">5</text>
<text x="50.2" y="367.85" text-anchor="end" font-size="6.5" fill="#2a2a2a">0</text>
<line x1="50.6" x2="173" y1="365.6" y2="365.6" stroke="#c9c4c2" stroke-width="0.6"/>
<rect x="51.1" y="314.65" width="3.98" height="50.75" fill="#6b6165"/>
<rect x="55.62" y="324.41" width="3.98" height="40.99" fill="#93528a"/>
<rect x="60.14" y="330.51" width="3.98" height="34.89" fill="#93528a"/>
<rect x="64.66" y="359.79" width="3.98" height="5.61" fill="#f3a264"/>
<rect x="69.18" y="361.74" width="3.98" height="3.66" fill="#79bf68"/>
<rect x="73.7" y="361.74" width="3.98" height="3.66" fill="#f3a264"/>
<rect x="78.22" y="363.69" width="3.98" height="1.71" fill="#79bf68"/>
<rect x="82.74" y="363.69" width="3.98" height="1.71" fill="#93528a"/>
<rect x="87.26" y="363.69" width="3.98" height="1.71" fill="#79bf68"/>
<rect x="91.78" y="363.69" width="3.98" height="1.71" fill="#79bf68"/>
<rect x="96.3" y="363.69" width="3.98" height="1.71" fill="#d56a76"/>
<rect x="100.82" y="363.69" width="3.98" height="1.71" fill="#6b6165"/>
<text transform="translate(54.64,367.6) rotate(-90)" text-anchor="end" font-size="4.1" fill="#2b2b2b">p-crAss</text>
<text transform="translate(59.16,367.6) rotate(-90)" text-anchor="end" font-size="4.1" fill="#2b2b2b">CPB1094</text>
<text transform="translate(63.68,367.6) rotate(-90)" text-anchor="end" font-size="4.1" fill="#2b2b2b">CPB1088</text>
<text transform="translate(68.2,367.6) rotate(-90)" text-anchor="end" font-size="4.1" fill="#2b2b2b">CPB1100</text>
<text transform="translate(72.72,367.6) rotate(-90)" text-anchor="end" font-size="4.1" fill="#2b2b2b">CPB1128</text>
<text transform="translate(77.24,367.6) rotate(-90)" text-anchor="end" font-size="4.1" fill="#2b2b2b">CPB1133</text>
<text transform="translate(81.76,367.6) rotate(-90)" text-anchor="end" font-size="4.1" fill="#2b2b2b">CPB1111</text>
<text transform="translate(86.28,367.6) rotate(-90)" text-anchor="end" font-size="4.1" fill="#2b2b2b">CPB1090</text>
<text transform="translate(90.8,367.6) rotate(-90)" text-anchor="end" font-size="4.1" fill="#2b2b2b">CPB1114</text>
<text transform="translate(95.32,367.6) rotate(-90)" text-anchor="end" font-size="4.1" fill="#2b2b2b">CPB1107</text>
<text transform="translate(99.84,367.6) rotate(-90)" text-anchor="end" font-size="4.1" fill="#2b2b2b">CPB1113</text>
<text transform="translate(104.36,367.6) rotate(-90)" text-anchor="end" font-size="4.1" fill="#2b2b2b">crAss001</text>
<text transform="translate(108.88,367.6) rotate(-90)" text-anchor="end" font-size="4.1" fill="#2b2b2b">CPB0998</text>
<text transform="translate(113.4,367.6) rotate(-90)" text-anchor="end" font-size="4.1" fill="#2b2b2b">CPB1023</text>
<text transform="translate(117.92,367.6) rotate(-90)" text-anchor="end" font-size="4.1" fill="#2b2b2b">CPB0530</text>
<text transform="translate(122.44,367.6) rotate(-90)" text-anchor="end" font-size="4.1" fill="#2b2b2b">CPB1112</text>
<text transform="translate(126.96,367.6) rotate(-90)" text-anchor="end" font-size="4.1" fill="#2b2b2b">CPB1135</text>
<text transform="translate(131.48,367.6) rotate(-90)" text-anchor="end" font-size="4.1" fill="#2b2b2b">CPB1000</text>
<text transform="translate(136,367.6) rotate(-90)" text-anchor="end" font-size="4.1" fill="#2b2b2b">CPB1087</text>
<text transform="translate(140.52,367.6) rotate(-90)" text-anchor="end" font-size="4.1" fill="#2b2b2b">CPB1098</text>
<text transform="translate(145.04,367.6) rotate(-90)" text-anchor="end" font-size="4.1" fill="#2b2b2b">CPB1099</text>
<text transform="translate(149.56,367.6) rotate(-90)" text-anchor="end" font-size="4.1" fill="#2b2b2b">CPB0528</text>
<text transform="translate(154.08,367.6) rotate(-90)" text-anchor="end" font-size="4.1" fill="#2b2b2b">CPB1101</text>
<text transform="translate(158.6,367.6) rotate(-90)" text-anchor="end" font-size="4.1" fill="#2b2b2b">CPB1129</text>
<text transform="translate(163.12,367.6) rotate(-90)" text-anchor="end" font-size="4.1" fill="#2b2b2b">CPB0997</text>
<text transform="translate(167.64,367.6) rotate(-90)" text-anchor="end" font-size="4.1" fill="#2b2b2b">CPB0986</text>
<text transform="translate(172.16,367.6) rotate(-90)" text-anchor="end" font-size="4.1" fill="#2b2b2b">CPB0999</text>
<path d="M322.9 386V438.3H264.8" fill="none" stroke="#cf5355" stroke-width="1.05"/>
<rect x="242.55" y="302.05" width="144.8" height="84.3" fill="#fff" stroke="#cf5355" stroke-width="2.5"/>
<text x="310.5" y="311.9" text-anchor="middle" font-size="8.35" font-weight="700" fill="#111">Asia</text>
<text transform="translate(253.1,343.7) rotate(-90)" text-anchor="middle" font-size="8.2" font-weight="700" fill="#111">prevalence (%)</text>
<line x1="261.8" x2="382.7" y1="320.09" y2="320.09" stroke="#e6e3e1" stroke-width="0.6"/>
<text x="261.5" y="322.54" text-anchor="end" font-size="6.5" fill="#2a2a2a">30</text>
<line x1="261.8" x2="382.7" y1="334.86" y2="334.86" stroke="#e6e3e1" stroke-width="0.6"/>
<text x="261.5" y="337.31" text-anchor="end" font-size="6.5" fill="#2a2a2a">20</text>
<line x1="261.8" x2="382.7" y1="349.63" y2="349.63" stroke="#e6e3e1" stroke-width="0.6"/>
<text x="261.5" y="352.08" text-anchor="end" font-size="6.5" fill="#2a2a2a">10</text>
<text x="261.5" y="366.85" text-anchor="end" font-size="6.5" fill="#2a2a2a">0</text>
<line x1="261.8" x2="382.7" y1="364.6" y2="364.6" stroke="#c9c4c2" stroke-width="0.6"/>
<rect x="262.3" y="314.63" width="3.95" height="49.77" fill="#93528a"/>
<rect x="266.79" y="316.55" width="3.95" height="47.85" fill="#93528a"/>
<rect x="271.28" y="332.94" width="3.95" height="31.46" fill="#6b6165"/>
<rect x="275.77" y="356.13" width="3.95" height="8.27" fill="#79bf68"/>
<rect x="280.26" y="357.16" width="3.95" height="7.24" fill="#79bf68"/>
<rect x="284.75" y="359.08" width="3.95" height="5.32" fill="#79bf68"/>
<rect x="289.24" y="359.23" width="3.95" height="5.17" fill="#79bf68"/>
<rect x="293.73" y="359.82" width="3.95" height="4.58" fill="#f3a264"/>
<rect x="298.22" y="359.97" width="3.95" height="4.43" fill="#f3a264"/>
<rect x="302.71" y="362.33" width="3.95" height="2.07" fill="#4b8437"/>
<rect x="307.2" y="363" width="3.95" height="1.4" fill="#93528a"/>
<rect x="311.69" y="363.22" width="3.95" height="1.18" fill="#d56a76"/>
<rect x="316.18" y="363.29" width="3.95" height="1.11" fill="#45806c"/>
<rect x="320.67" y="363.37" width="3.95" height="1.03" fill="#dba02d"/>
<rect x="325.16" y="363.44" width="3.95" height="0.96" fill="#78a892"/>
<rect x="329.65" y="363.59" width="3.95" height="0.81" fill="#f3a264"/>
<rect x="334.14" y="363.66" width="3.95" height="0.74" fill="#45806c"/>
<rect x="338.63" y="363.74" width="3.95" height="0.66" fill="#93528a"/>
<rect x="343.12" y="363.74" width="3.95" height="0.66" fill="#93528a"/>
<rect x="347.61" y="363.81" width="3.95" height="0.59" fill="#93528a"/>
<rect x="352.1" y="363.96" width="3.95" height="0.44" fill="#e0b44c"/>
<rect x="356.59" y="363.96" width="3.95" height="0.44" fill="#f3a264"/>
<rect x="361.08" y="364.03" width="3.95" height="0.37" fill="#4b8437"/>
<rect x="365.57" y="364.03" width="3.95" height="0.37" fill="#4b8437"/>
<rect x="370.06" y="364.1" width="3.95" height="0.3" fill="#4b8437"/>
<rect x="374.55" y="364.1" width="3.95" height="0.3" fill="#93528a"/>
<rect x="379.04" y="364.25" width="3.95" height="0.15" fill="#6b6165"/>
<text transform="translate(265.83,366.6) rotate(-90)" text-anchor="end" font-size="4.1" fill="#2b2b2b">CPB1094</text>
<text transform="translate(270.32,366.6) rotate(-90)" text-anchor="end" font-size="4.1" fill="#2b2b2b">CPB1088</text>
<text transform="translate(274.81,366.6) rotate(-90)" text-anchor="end" font-size="4.1" fill="#2b2b2b">p-crAss</text>
<text transform="translate(279.3,366.6) rotate(-90)" text-anchor="end" font-size="4.1" fill="#2b2b2b">CPB1114</text>
<text transform="translate(283.79,366.6) rotate(-90)" text-anchor="end" font-size="4.1" fill="#2b2b2b">CPB1111</text>
<text transform="translate(288.28,366.6) rotate(-90)" text-anchor="end" font-size="4.1" fill="#2b2b2b">CPB1128</text>
<text transform="translate(292.77,366.6) rotate(-90)" text-anchor="end" font-size="4.1" fill="#2b2b2b">CPB1107</text>
<text transform="translate(297.26,366.6) rotate(-90)" text-anchor="end" font-size="4.1" fill="#2b2b2b">CPB1133</text>
<text transform="translate(301.75,366.6) rotate(-90)" text-anchor="end" font-size="4.1" fill="#2b2b2b">CPB1100</text>
<text transform="translate(306.24,366.6) rotate(-90)" text-anchor="end" font-size="4.1" fill="#2b2b2b">CPB0999</text>
<text transform="translate(310.73,366.6) rotate(-90)" text-anchor="end" font-size="4.1" fill="#2b2b2b">CPB1090</text>
<text transform="translate(315.22,366.6) rotate(-90)" text-anchor="end" font-size="4.1" fill="#2b2b2b">CPB1113</text>
<text transform="translate(319.71,366.6) rotate(-90)" text-anchor="end" font-size="4.1" fill="#2b2b2b">CPB1023</text>
<text transform="translate(324.2,366.6) rotate(-90)" text-anchor="end" font-size="4.1" fill="#2b2b2b">CPB0530</text>
<text transform="translate(328.69,366.6) rotate(-90)" text-anchor="end" font-size="4.1" fill="#2b2b2b">CPB1112</text>
<text transform="translate(333.18,366.6) rotate(-90)" text-anchor="end" font-size="4.1" fill="#2b2b2b">CPB1135</text>
<text transform="translate(337.67,366.6) rotate(-90)" text-anchor="end" font-size="4.1" fill="#2b2b2b">CPB1000</text>
<text transform="translate(342.16,366.6) rotate(-90)" text-anchor="end" font-size="4.1" fill="#2b2b2b">CPB1087</text>
<text transform="translate(346.65,366.6) rotate(-90)" text-anchor="end" font-size="4.1" fill="#2b2b2b">CPB1098</text>
<text transform="translate(351.14,366.6) rotate(-90)" text-anchor="end" font-size="4.1" fill="#2b2b2b">CPB1099</text>
<text transform="translate(355.63,366.6) rotate(-90)" text-anchor="end" font-size="4.1" fill="#2b2b2b">CPB0528</text>
<text transform="translate(360.12,366.6) rotate(-90)" text-anchor="end" font-size="4.1" fill="#2b2b2b">CPB1101</text>
<text transform="translate(364.61,366.6) rotate(-90)" text-anchor="end" font-size="4.1" fill="#2b2b2b">CPB1129</text>
<text transform="translate(369.1,366.6) rotate(-90)" text-anchor="end" font-size="4.1" fill="#2b2b2b">CPB0997</text>
<text transform="translate(373.59,366.6) rotate(-90)" text-anchor="end" font-size="4.1" fill="#2b2b2b">CPB0998</text>
<text transform="translate(378.08,366.6) rotate(-90)" text-anchor="end" font-size="4.1" fill="#2b2b2b">CPB0986</text>
<text transform="translate(382.57,366.6) rotate(-90)" text-anchor="end" font-size="4.1" fill="#2b2b2b">crAss001</text>
<path d="M536.6 387V422.6" fill="none" stroke="#4d64ae" stroke-width="1.05"/>
<rect x="461.95" y="302.05" width="144.9" height="84.8" fill="#fff" stroke="#4d64ae" stroke-width="2.5"/>
<text x="541.4" y="312.4" text-anchor="middle" font-size="8.35" font-weight="700" fill="#111">North America</text>
<text transform="translate(473.1,344.8) rotate(-90)" text-anchor="middle" font-size="8.2" font-weight="700" fill="#111">prevalence (%)</text>
<line x1="481.8" x2="604.5" y1="317" y2="317" stroke="#e6e3e1" stroke-width="0.6"/>
<text x="481.5" y="319.45" text-anchor="end" font-size="6.5" fill="#2a2a2a">15</text>
<line x1="481.8" x2="604.5" y1="333.1" y2="333.1" stroke="#e6e3e1" stroke-width="0.6"/>
<text x="481.5" y="335.55" text-anchor="end" font-size="6.5" fill="#2a2a2a">10</text>
<line x1="481.8" x2="604.5" y1="349.2" y2="349.2" stroke="#e6e3e1" stroke-width="0.6"/>
<text x="481.5" y="351.65" text-anchor="end" font-size="6.5" fill="#2a2a2a">5</text>
<text x="481.5" y="367.75" text-anchor="end" font-size="6.5" fill="#2a2a2a">0</text>
<line x1="481.8" x2="604.5" y1="365.5" y2="365.5" stroke="#c9c4c2" stroke-width="0.6"/>
<rect x="482.3" y="311.2" width="3.95" height="54.1" fill="#93528a"/>
<rect x="486.79" y="311.2" width="3.95" height="54.1" fill="#93528a"/>
<rect x="491.28" y="353.87" width="3.95" height="11.43" fill="#6b6165"/>
<rect x="495.77" y="353.87" width="3.95" height="11.43" fill="#79bf68"/>
<rect x="500.26" y="357.73" width="3.95" height="7.57" fill="#93528a"/>
<text transform="translate(485.83,367.5) rotate(-90)" text-anchor="end" font-size="4.1" fill="#2b2b2b">CPB1094</text>
<text transform="translate(490.32,367.5) rotate(-90)" text-anchor="end" font-size="4.1" fill="#2b2b2b">CPB1088</text>
<text transform="translate(494.81,367.5) rotate(-90)" text-anchor="end" font-size="4.1" fill="#2b2b2b">p-crAss</text>
<text transform="translate(499.3,367.5) rotate(-90)" text-anchor="end" font-size="4.1" fill="#2b2b2b">CPB1111</text>
<text transform="translate(503.79,367.5) rotate(-90)" text-anchor="end" font-size="4.1" fill="#2b2b2b">CPB1090</text>
<text transform="translate(508.28,367.5) rotate(-90)" text-anchor="end" font-size="4.1" fill="#2b2b2b">CPB1114</text>
<text transform="translate(512.77,367.5) rotate(-90)" text-anchor="end" font-size="4.1" fill="#2b2b2b">CPB1128</text>
<text transform="translate(517.26,367.5) rotate(-90)" text-anchor="end" font-size="4.1" fill="#2b2b2b">CPB1107</text>
<text transform="translate(521.75,367.5) rotate(-90)" text-anchor="end" font-size="4.1" fill="#2b2b2b">CPB1133</text>
<text transform="translate(526.24,367.5) rotate(-90)" text-anchor="end" font-size="4.1" fill="#2b2b2b">CPB1100</text>
<text transform="translate(530.73,367.5) rotate(-90)" text-anchor="end" font-size="4.1" fill="#2b2b2b">CPB0999</text>
<text transform="translate(535.22,367.5) rotate(-90)" text-anchor="end" font-size="4.1" fill="#2b2b2b">CPB1113</text>
<text transform="translate(539.71,367.5) rotate(-90)" text-anchor="end" font-size="4.1" fill="#2b2b2b">CPB1023</text>
<text transform="translate(544.2,367.5) rotate(-90)" text-anchor="end" font-size="4.1" fill="#2b2b2b">CPB0530</text>
<text transform="translate(548.69,367.5) rotate(-90)" text-anchor="end" font-size="4.1" fill="#2b2b2b">CPB1112</text>
<text transform="translate(553.18,367.5) rotate(-90)" text-anchor="end" font-size="4.1" fill="#2b2b2b">CPB1135</text>
<text transform="translate(557.67,367.5) rotate(-90)" text-anchor="end" font-size="4.1" fill="#2b2b2b">CPB1000</text>
<text transform="translate(562.16,367.5) rotate(-90)" text-anchor="end" font-size="4.1" fill="#2b2b2b">CPB1087</text>
<text transform="translate(566.65,367.5) rotate(-90)" text-anchor="end" font-size="4.1" fill="#2b2b2b">CPB1098</text>
<text transform="translate(571.14,367.5) rotate(-90)" text-anchor="end" font-size="4.1" fill="#2b2b2b">CPB1099</text>
<text transform="translate(575.63,367.5) rotate(-90)" text-anchor="end" font-size="4.1" fill="#2b2b2b">crAss001</text>
<text transform="translate(580.12,367.5) rotate(-90)" text-anchor="end" font-size="4.1" fill="#2b2b2b">CPB0528</text>
<text transform="translate(584.61,367.5) rotate(-90)" text-anchor="end" font-size="4.1" fill="#2b2b2b">CPB1101</text>
<text transform="translate(589.1,367.5) rotate(-90)" text-anchor="end" font-size="4.1" fill="#2b2b2b">CPB1129</text>
<text transform="translate(593.59,367.5) rotate(-90)" text-anchor="end" font-size="4.1" fill="#2b2b2b">CPB0997</text>
<text transform="translate(598.08,367.5) rotate(-90)" text-anchor="end" font-size="4.1" fill="#2b2b2b">CPB0998</text>
<text transform="translate(602.57,367.5) rotate(-90)" text-anchor="end" font-size="4.1" fill="#2b2b2b">CPB0986</text>
<path d="M562 516.4H600" fill="none" stroke="#c67dbd" stroke-width="1.05"/>
<rect x="417.65" y="475.35" width="144.7" height="84.9" fill="#fff" stroke="#c67dbd" stroke-width="2.5"/>
<text x="491.8" y="485.8" text-anchor="middle" font-size="8.35" font-weight="700" fill="#111">South America</text>
<text transform="translate(428.1,521.5) rotate(-90)" text-anchor="middle" font-size="8.2" font-weight="700" fill="#111">prevalence (%)</text>
<line x1="436.8" x2="559.5" y1="494.88" y2="494.88" stroke="#e6e3e1" stroke-width="0.6"/>
<text x="436.5" y="497.33" text-anchor="end" font-size="6.5" fill="#2a2a2a">9</text>
<line x1="436.8" x2="559.5" y1="508.92" y2="508.92" stroke="#e6e3e1" stroke-width="0.6"/>
<text x="436.5" y="511.37" text-anchor="end" font-size="6.5" fill="#2a2a2a">6</text>
<line x1="436.8" x2="559.5" y1="522.96" y2="522.96" stroke="#e6e3e1" stroke-width="0.6"/>
<text x="436.5" y="525.41" text-anchor="end" font-size="6.5" fill="#2a2a2a">3</text>
<text x="436.5" y="539.45" text-anchor="end" font-size="6.5" fill="#2a2a2a">0</text>
<line x1="436.8" x2="559.5" y1="537.2" y2="537.2" stroke="#c9c4c2" stroke-width="0.6"/>
<rect x="437.3" y="485.05" width="3.95" height="51.95" fill="#93528a"/>
<rect x="441.79" y="488.8" width="3.95" height="48.2" fill="#93528a"/>
<rect x="446.28" y="508.92" width="3.95" height="28.08" fill="#6b6165"/>
<rect x="450.77" y="528.81" width="3.95" height="8.19" fill="#93528a"/>
<rect x="455.26" y="528.81" width="3.95" height="8.19" fill="#4b8437"/>
<rect x="459.75" y="533.02" width="3.95" height="3.98" fill="#4b8437"/>
<rect x="464.24" y="533.02" width="3.95" height="3.98" fill="#4b8437"/>
<text transform="translate(440.83,539.2) rotate(-90)" text-anchor="end" font-size="4.1" fill="#2b2b2b">CPB1088</text>
<text transform="translate(445.32,539.2) rotate(-90)" text-anchor="end" font-size="4.1" fill="#2b2b2b">CPB1094</text>
<text transform="translate(449.81,539.2) rotate(-90)" text-anchor="end" font-size="4.1" fill="#2b2b2b">p-crAss</text>
<text transform="translate(454.3,539.2) rotate(-90)" text-anchor="end" font-size="4.1" fill="#2b2b2b">CPB1090</text>
<text transform="translate(458.79,539.2) rotate(-90)" text-anchor="end" font-size="4.1" fill="#2b2b2b">CPB1129</text>
<text transform="translate(463.28,539.2) rotate(-90)" text-anchor="end" font-size="4.1" fill="#2b2b2b">CPB0997</text>
<text transform="translate(467.77,539.2) rotate(-90)" text-anchor="end" font-size="4.1" fill="#2b2b2b">CPB0998</text>
<text transform="translate(472.26,539.2) rotate(-90)" text-anchor="end" font-size="4.1" fill="#2b2b2b">CPB1111</text>
<text transform="translate(476.75,539.2) rotate(-90)" text-anchor="end" font-size="4.1" fill="#2b2b2b">CPB1114</text>
<text transform="translate(481.24,539.2) rotate(-90)" text-anchor="end" font-size="4.1" fill="#2b2b2b">CPB1128</text>
<text transform="translate(485.73,539.2) rotate(-90)" text-anchor="end" font-size="4.1" fill="#2b2b2b">CPB1107</text>
<text transform="translate(490.22,539.2) rotate(-90)" text-anchor="end" font-size="4.1" fill="#2b2b2b">CPB1133</text>
<text transform="translate(494.71,539.2) rotate(-90)" text-anchor="end" font-size="4.1" fill="#2b2b2b">CPB1100</text>
<text transform="translate(499.2,539.2) rotate(-90)" text-anchor="end" font-size="4.1" fill="#2b2b2b">CPB0999</text>
<text transform="translate(503.69,539.2) rotate(-90)" text-anchor="end" font-size="4.1" fill="#2b2b2b">CPB1113</text>
<text transform="translate(508.18,539.2) rotate(-90)" text-anchor="end" font-size="4.1" fill="#2b2b2b">CPB1023</text>
<text transform="translate(512.67,539.2) rotate(-90)" text-anchor="end" font-size="4.1" fill="#2b2b2b">CPB0530</text>
<text transform="translate(517.16,539.2) rotate(-90)" text-anchor="end" font-size="4.1" fill="#2b2b2b">CPB1112</text>
<text transform="translate(521.65,539.2) rotate(-90)" text-anchor="end" font-size="4.1" fill="#2b2b2b">CPB1135</text>
<text transform="translate(526.14,539.2) rotate(-90)" text-anchor="end" font-size="4.1" fill="#2b2b2b">CPB1000</text>
<text transform="translate(530.63,539.2) rotate(-90)" text-anchor="end" font-size="4.1" fill="#2b2b2b">CPB1087</text>
<text transform="translate(535.12,539.2) rotate(-90)" text-anchor="end" font-size="4.1" fill="#2b2b2b">CPB1098</text>
<text transform="translate(539.61,539.2) rotate(-90)" text-anchor="end" font-size="4.1" fill="#2b2b2b">CPB1099</text>
<text transform="translate(544.1,539.2) rotate(-90)" text-anchor="end" font-size="4.1" fill="#2b2b2b">crAss001</text>
<text transform="translate(548.59,539.2) rotate(-90)" text-anchor="end" font-size="4.1" fill="#2b2b2b">CPB0528</text>
<text transform="translate(553.08,539.2) rotate(-90)" text-anchor="end" font-size="4.1" fill="#2b2b2b">CPB1101</text>
<text transform="translate(557.57,539.2) rotate(-90)" text-anchor="end" font-size="4.1" fill="#2b2b2b">CPB0986</text>
<path d="M123.4 586V491.3" fill="none" stroke="#6fbb8b" stroke-width="1.05"/>
<rect x="46.95" y="586.05" width="145.3" height="84.7" fill="#fff" stroke="#6fbb8b" stroke-width="2.5"/>
<text x="124.6" y="597.2" text-anchor="middle" font-size="8.35" font-weight="700" fill="#111">Africa</text>
<text transform="translate(58.1,630.2) rotate(-90)" text-anchor="middle" font-size="8.2" font-weight="700" fill="#111">prevalence (%)</text>
<line x1="66.4" x2="189.5" y1="605.43" y2="605.43" stroke="#e6e3e1" stroke-width="0.6"/>
<text x="66.2" y="607.88" text-anchor="end" font-size="6.5" fill="#2a2a2a">9</text>
<line x1="66.4" x2="189.5" y1="619.62" y2="619.62" stroke="#e6e3e1" stroke-width="0.6"/>
<text x="66.2" y="622.07" text-anchor="end" font-size="6.5" fill="#2a2a2a">6</text>
<line x1="66.4" x2="189.5" y1="633.81" y2="633.81" stroke="#e6e3e1" stroke-width="0.6"/>
<text x="66.2" y="636.26" text-anchor="end" font-size="6.5" fill="#2a2a2a">3</text>
<text x="66.2" y="650.45" text-anchor="end" font-size="6.5" fill="#2a2a2a">0</text>
<line x1="66.4" x2="189.5" y1="648.2" y2="648.2" stroke="#c9c4c2" stroke-width="0.6"/>
<rect x="66.9" y="597.86" width="3.95" height="50.14" fill="#6b6165"/>
<rect x="71.39" y="622.93" width="3.95" height="25.07" fill="#93528a"/>
<rect x="75.88" y="622.93" width="3.95" height="25.07" fill="#93528a"/>
<rect x="80.37" y="643.98" width="3.95" height="4.02" fill="#93528a"/>
<rect x="84.86" y="643.98" width="3.95" height="4.02" fill="#4b8437"/>
<rect x="89.35" y="643.98" width="3.95" height="4.02" fill="#45806c"/>
<rect x="93.84" y="643.98" width="3.95" height="4.02" fill="#45806c"/>
<text transform="translate(70.43,650.2) rotate(-90)" text-anchor="end" font-size="4.1" fill="#2b2b2b">p-crAss</text>
<text transform="translate(74.92,650.2) rotate(-90)" text-anchor="end" font-size="4.1" fill="#2b2b2b">CPB1094</text>
<text transform="translate(79.41,650.2) rotate(-90)" text-anchor="end" font-size="4.1" fill="#2b2b2b">CPB1088</text>
<text transform="translate(83.9,650.2) rotate(-90)" text-anchor="end" font-size="4.1" fill="#2b2b2b">CPB1090</text>
<text transform="translate(88.39,650.2) rotate(-90)" text-anchor="end" font-size="4.1" fill="#2b2b2b">CPB0999</text>
<text transform="translate(92.88,650.2) rotate(-90)" text-anchor="end" font-size="4.1" fill="#2b2b2b">CPB1023</text>
<text transform="translate(97.37,650.2) rotate(-90)" text-anchor="end" font-size="4.1" fill="#2b2b2b">CPB1000</text>
<text transform="translate(101.86,650.2) rotate(-90)" text-anchor="end" font-size="4.1" fill="#2b2b2b">CPB1111</text>
<text transform="translate(106.35,650.2) rotate(-90)" text-anchor="end" font-size="4.1" fill="#2b2b2b">CPB1114</text>
<text transform="translate(110.84,650.2) rotate(-90)" text-anchor="end" font-size="4.1" fill="#2b2b2b">CPB1128</text>
<text transform="translate(115.33,650.2) rotate(-90)" text-anchor="end" font-size="4.1" fill="#2b2b2b">CPB1107</text>
<text transform="translate(119.82,650.2) rotate(-90)" text-anchor="end" font-size="4.1" fill="#2b2b2b">CPB1113</text>
<text transform="translate(124.31,650.2) rotate(-90)" text-anchor="end" font-size="4.1" fill="#2b2b2b">CPB1100</text>
<text transform="translate(128.8,650.2) rotate(-90)" text-anchor="end" font-size="4.1" fill="#2b2b2b">CPB1133</text>
<text transform="translate(133.29,650.2) rotate(-90)" text-anchor="end" font-size="4.1" fill="#2b2b2b">CPB0530</text>
<text transform="translate(137.78,650.2) rotate(-90)" text-anchor="end" font-size="4.1" fill="#2b2b2b">CPB1112</text>
<text transform="translate(142.27,650.2) rotate(-90)" text-anchor="end" font-size="4.1" fill="#2b2b2b">CPB1135</text>
<text transform="translate(146.76,650.2) rotate(-90)" text-anchor="end" font-size="4.1" fill="#2b2b2b">CPB1087</text>
<text transform="translate(151.25,650.2) rotate(-90)" text-anchor="end" font-size="4.1" fill="#2b2b2b">CPB1098</text>
<text transform="translate(155.74,650.2) rotate(-90)" text-anchor="end" font-size="4.1" fill="#2b2b2b">CPB1099</text>
<text transform="translate(160.23,650.2) rotate(-90)" text-anchor="end" font-size="4.1" fill="#2b2b2b">crAss001</text>
<text transform="translate(164.72,650.2) rotate(-90)" text-anchor="end" font-size="4.1" fill="#2b2b2b">CPB0528</text>
<text transform="translate(169.21,650.2) rotate(-90)" text-anchor="end" font-size="4.1" fill="#2b2b2b">CPB1101</text>
<text transform="translate(173.7,650.2) rotate(-90)" text-anchor="end" font-size="4.1" fill="#2b2b2b">CPB1129</text>
<text transform="translate(178.19,650.2) rotate(-90)" text-anchor="end" font-size="4.1" fill="#2b2b2b">CPB0997</text>
<text transform="translate(182.68,650.2) rotate(-90)" text-anchor="end" font-size="4.1" fill="#2b2b2b">CPB0998</text>
<text transform="translate(187.17,650.2) rotate(-90)" text-anchor="end" font-size="4.1" fill="#2b2b2b">CPB0986</text>
<path d="M312.6 587V545.5" fill="none" stroke="#ef944f" stroke-width="1.05"/>
<rect x="233.15" y="587.05" width="144.9" height="83.6" fill="#fff" stroke="#ef944f" stroke-width="2.5"/>
<text x="309.1" y="596" text-anchor="middle" font-size="8.35" font-weight="700" fill="#111">Oceania</text>
<text transform="translate(243.1,628.8) rotate(-90)" text-anchor="middle" font-size="8.2" font-weight="700" fill="#111">prevalence (%)</text>
<line x1="253.7" x2="375" y1="600.2" y2="600.2" stroke="#e6e3e1" stroke-width="0.6"/>
<text x="253.3" y="602.65" text-anchor="end" font-size="5.7" fill="#2a2a2a">0.8</text>
<line x1="253.7" x2="375" y1="612.5" y2="612.5" stroke="#e6e3e1" stroke-width="0.6"/>
<text x="253.3" y="614.95" text-anchor="end" font-size="5.7" fill="#2a2a2a">0.6</text>
<line x1="253.7" x2="375" y1="624.8" y2="624.8" stroke="#e6e3e1" stroke-width="0.6"/>
<text x="253.3" y="627.25" text-anchor="end" font-size="5.7" fill="#2a2a2a">0.4</text>
<line x1="253.7" x2="375" y1="637.1" y2="637.1" stroke="#e6e3e1" stroke-width="0.6"/>
<text x="253.3" y="639.55" text-anchor="end" font-size="5.7" fill="#2a2a2a">0.2</text>
<text x="253.3" y="651.85" text-anchor="end" font-size="5.7" fill="#2a2a2a">0.0</text>
<line x1="253.7" x2="375" y1="649.6" y2="649.6" stroke="#c9c4c2" stroke-width="0.6"/>
<rect x="254.2" y="598.97" width="3.95" height="50.43" fill="#93528a"/>
<rect x="258.69" y="598.97" width="3.95" height="50.43" fill="#6b6165"/>
<rect x="263.18" y="624.18" width="3.95" height="25.21" fill="#93528a"/>
<text transform="translate(257.73,651.6) rotate(-90)" text-anchor="end" font-size="4.1" fill="#2b2b2b">CPB1094</text>
<text transform="translate(262.22,651.6) rotate(-90)" text-anchor="end" font-size="4.1" fill="#2b2b2b">p-crAss</text>
<text transform="translate(266.71,651.6) rotate(-90)" text-anchor="end" font-size="4.1" fill="#2b2b2b">CPB1088</text>
<text transform="translate(271.2,651.6) rotate(-90)" text-anchor="end" font-size="4.1" fill="#2b2b2b">CPB1111</text>
<text transform="translate(275.69,651.6) rotate(-90)" text-anchor="end" font-size="4.1" fill="#2b2b2b">CPB1090</text>
<text transform="translate(280.18,651.6) rotate(-90)" text-anchor="end" font-size="4.1" fill="#2b2b2b">CPB1114</text>
<text transform="translate(284.67,651.6) rotate(-90)" text-anchor="end" font-size="4.1" fill="#2b2b2b">CPB1128</text>
<text transform="translate(289.16,651.6) rotate(-90)" text-anchor="end" font-size="4.1" fill="#2b2b2b">CPB1107</text>
<text transform="translate(293.65,651.6) rotate(-90)" text-anchor="end" font-size="4.1" fill="#2b2b2b">CPB1133</text>
<text transform="translate(298.14,651.6) rotate(-90)" text-anchor="end" font-size="4.1" fill="#2b2b2b">CPB1100</text>
<text transform="translate(302.63,651.6) rotate(-90)" text-anchor="end" font-size="4.1" fill="#2b2b2b">CPB0999</text>
<text transform="translate(307.12,651.6) rotate(-90)" text-anchor="end" font-size="4.1" fill="#2b2b2b">CPB1113</text>
<text transform="translate(311.61,651.6) rotate(-90)" text-anchor="end" font-size="4.1" fill="#2b2b2b">CPB1023</text>
<text transform="translate(316.1,651.6) rotate(-90)" text-anchor="end" font-size="4.1" fill="#2b2b2b">CPB0530</text>
<text transform="translate(320.59,651.6) rotate(-90)" text-anchor="end" font-size="4.1" fill="#2b2b2b">CPB1112</text>
<text transform="translate(325.08,651.6) rotate(-90)" text-anchor="end" font-size="4.1" fill="#2b2b2b">CPB1135</text>
<text transform="translate(329.57,651.6) rotate(-90)" text-anchor="end" font-size="4.1" fill="#2b2b2b">CPB1000</text>
<text transform="translate(334.06,651.6) rotate(-90)" text-anchor="end" font-size="4.1" fill="#2b2b2b">CPB1087</text>
<text transform="translate(338.55,651.6) rotate(-90)" text-anchor="end" font-size="4.1" fill="#2b2b2b">CPB1098</text>
<text transform="translate(343.04,651.6) rotate(-90)" text-anchor="end" font-size="4.1" fill="#2b2b2b">CPB1099</text>
<text transform="translate(347.53,651.6) rotate(-90)" text-anchor="end" font-size="4.1" fill="#2b2b2b">crAss001</text>
<text transform="translate(352.02,651.6) rotate(-90)" text-anchor="end" font-size="4.1" fill="#2b2b2b">CPB0528</text>
<text transform="translate(356.51,651.6) rotate(-90)" text-anchor="end" font-size="4.1" fill="#2b2b2b">CPB1101</text>
<text transform="translate(361,651.6) rotate(-90)" text-anchor="end" font-size="4.1" fill="#2b2b2b">CPB1129</text>
<text transform="translate(365.49,651.6) rotate(-90)" text-anchor="end" font-size="4.1" fill="#2b2b2b">CPB0997</text>
<text transform="translate(369.98,651.6) rotate(-90)" text-anchor="end" font-size="4.1" fill="#2b2b2b">CPB0998</text>
<text transform="translate(374.47,651.6) rotate(-90)" text-anchor="end" font-size="4.1" fill="#2b2b2b">CPB0986</text>
</g>
<g id="bottom">
<text x="1.6" y="715.4" font-size="13.6" font-weight="700" fill="#000">C</text>
<text x="335.6" y="715.4" font-size="13.6" font-weight="700" fill="#000">D</text>
<text x="502.6" y="715.4" font-size="13.6" font-weight="700" fill="#000">E</text>
<rect x="47.3" y="717.6" width="9.7" height="9.6" fill="#efbdc4"/><text x="59.6" y="726" font-size="9.3" fill="#1e1e1e">Normal</text>
<rect x="102" y="717.6" width="9.7" height="9.6" fill="#b5445b"/><text x="113" y="726" font-size="9.3" fill="#1e1e1e">Obesity</text>
<rect x="200.2" y="717.6" width="9.7" height="9.6" fill="#efbdc4"/><text x="212.6" y="726" font-size="9.3" fill="#1e1e1e">Normal</text>
<rect x="255.4" y="717.6" width="9.7" height="9.6" fill="#dc8f9b"/><text x="266.4" y="726" font-size="9.3" fill="#1e1e1e">T2D</text>
<rect x="42.3" y="733" width="131.1" height="142.8" fill="#fff"/>
<line x1="42.3" x2="173.4" y1="737.9" y2="737.9" stroke="#e6e1da" stroke-width="1.1"/>
<line x1="42.3" x2="173.4" y1="771" y2="771" stroke="#e6e1da" stroke-width="1.1"/>
<line x1="42.3" x2="173.4" y1="804.1" y2="804.1" stroke="#e6e1da" stroke-width="1.1"/>
<line x1="42.3" x2="173.4" y1="837.2" y2="837.2" stroke="#e6e1da" stroke-width="1.1"/>
<line x1="42.3" x2="173.4" y1="870.3" y2="870.3" stroke="#e6e1da" stroke-width="1.1"/>
<line x1="60.1" x2="60.1" y1="733" y2="875.8" stroke="#e6e1da" stroke-width="1.1"/>
<line x1="91.1" x2="91.1" y1="733" y2="875.8" stroke="#e6e1da" stroke-width="1.1"/>
<line x1="122.1" x2="122.1" y1="733" y2="875.8" stroke="#e6e1da" stroke-width="1.1"/>
<line x1="153.1" x2="153.1" y1="733" y2="875.8" stroke="#e6e1da" stroke-width="1.1"/>
<rect x="46.15" y="816.9" width="13.95" height="53.4" fill="#efbdc4"/>
<rect x="60.1" y="740.9" width="13.95" height="129.4" fill="#b5445b"/>
<rect x="77.15" y="825.1" width="13.95" height="45.2" fill="#efbdc4"/>
<rect x="91.1" y="748.8" width="13.95" height="121.5" fill="#b5445b"/>
<rect x="108.15" y="856.5" width="13.95" height="13.8" fill="#efbdc4"/>
<rect x="122.1" y="829.6" width="13.95" height="40.7" fill="#b5445b"/>
<rect x="139.15" y="829.6" width="13.95" height="40.7" fill="#efbdc4"/>
<rect x="153.1" y="748.8" width="13.95" height="121.5" fill="#b5445b"/>
<text x="54.4" y="815.9" text-anchor="middle" font-size="5.85" fill="#1c1c1c">15.97%</text>
<text x="69" y="740.3" text-anchor="middle" font-size="5.85" fill="#1c1c1c">39.47%</text>
<text x="83.5" y="824" text-anchor="middle" font-size="5.85" fill="#1c1c1c">13.89%</text>
<text x="100.3" y="748" text-anchor="middle" font-size="5.85" fill="#1c1c1c">36.84%</text>
<text x="115.6" y="855.7" text-anchor="middle" font-size="5.85" fill="#1c1c1c">3.13%</text>
<text x="125.1" y="828.6" text-anchor="middle" font-size="5.85" fill="#1c1c1c">12.50%</text>
<text x="148.1" y="828.6" text-anchor="middle" font-size="5.85" fill="#1c1c1c">12.50%</text>
<text x="160.7" y="748" text-anchor="middle" font-size="5.85" fill="#1c1c1c">36.84%</text>
<rect x="42.3" y="733" width="131.1" height="142.8" fill="none" stroke="#2a2526" stroke-width="1.45"/>
<line x1="39.9" x2="42.3" y1="737.9" y2="737.9" stroke="#222" stroke-width="1"/>
<text x="38.1" y="741" text-anchor="end" font-size="8.8" fill="#2a2627">40</text>
<line x1="39.9" x2="42.3" y1="771" y2="771" stroke="#222" stroke-width="1"/>
<text x="38.1" y="774.1" text-anchor="end" font-size="8.8" fill="#2a2627">30</text>
<line x1="39.9" x2="42.3" y1="804.1" y2="804.1" stroke="#222" stroke-width="1"/>
<text x="38.1" y="807.2" text-anchor="end" font-size="8.8" fill="#2a2627">20</text>
<line x1="39.9" x2="42.3" y1="837.2" y2="837.2" stroke="#222" stroke-width="1"/>
<text x="38.1" y="840.3" text-anchor="end" font-size="8.8" fill="#2a2627">10</text>
<line x1="39.9" x2="42.3" y1="870.3" y2="870.3" stroke="#222" stroke-width="1"/>
<text x="38.1" y="873.4" text-anchor="end" font-size="8.8" fill="#2a2627">0</text>
<line x1="60.1" x2="60.1" y1="875.8" y2="878.2" stroke="#333" stroke-width="0.9"/>
<text transform="translate(65,886.4) rotate(-29)" text-anchor="end" font-size="8.3" fill="#161314">RTGS0006</text>
<line x1="91.1" x2="91.1" y1="875.8" y2="878.2" stroke="#333" stroke-width="0.9"/>
<text transform="translate(96,886.4) rotate(-29)" text-anchor="end" font-size="8.3" fill="#161314">RTGS0008</text>
<line x1="122.1" x2="122.1" y1="875.8" y2="878.2" stroke="#333" stroke-width="0.9"/>
<text transform="translate(127,886.4) rotate(-29)" text-anchor="end" font-size="8.3" fill="#161314">RTGS0014</text>
<line x1="153.1" x2="153.1" y1="875.8" y2="878.2" stroke="#333" stroke-width="0.9"/>
<text transform="translate(158,886.4) rotate(-29)" text-anchor="end" font-size="8.3" fill="#161314">RTGS0018</text>
<text transform="translate(23.4,810.3) rotate(-90)" text-anchor="middle" font-size="9.3" font-weight="700" fill="#111">prevalence (%)</text>
<rect x="194.2" y="732.2" width="131.8" height="142.8" fill="#fff"/>
<line x1="194.2" x2="326" y1="737.3" y2="737.3" stroke="#e6e1da" stroke-width="1.1"/>
<line x1="194.2" x2="326" y1="770.15" y2="770.15" stroke="#e6e1da" stroke-width="1.1"/>
<line x1="194.2" x2="326" y1="803" y2="803" stroke="#e6e1da" stroke-width="1.1"/>
<line x1="194.2" x2="326" y1="835.85" y2="835.85" stroke="#e6e1da" stroke-width="1.1"/>
<line x1="194.2" x2="326" y1="868.7" y2="868.7" stroke="#e6e1da" stroke-width="1.1"/>
<line x1="213.1" x2="213.1" y1="732.2" y2="875" stroke="#e6e1da" stroke-width="1.1"/>
<line x1="244.2" x2="244.2" y1="732.2" y2="875" stroke="#e6e1da" stroke-width="1.1"/>
<line x1="275.4" x2="275.4" y1="732.2" y2="875" stroke="#e6e1da" stroke-width="1.1"/>
<line x1="306.7" x2="306.7" y1="732.2" y2="875" stroke="#e6e1da" stroke-width="1.1"/>
<rect x="199.15" y="762.7" width="13.95" height="106" fill="#efbdc4"/>
<rect x="213.1" y="747" width="13.95" height="121.7" fill="#dc8f9b"/>
<rect x="230.25" y="779.1" width="13.95" height="89.6" fill="#efbdc4"/>
<rect x="244.2" y="754" width="13.95" height="114.7" fill="#dc8f9b"/>
<rect x="261.45" y="850" width="13.95" height="18.7" fill="#efbdc4"/>
<rect x="275.4" y="843.9" width="13.95" height="24.8" fill="#dc8f9b"/>
<rect x="292.75" y="787.3" width="13.95" height="81.4" fill="#efbdc4"/>
<rect x="306.7" y="761.1" width="13.95" height="107.6" fill="#dc8f9b"/>
<text x="208.4" y="761.7" text-anchor="middle" font-size="5.85" fill="#1c1c1c">15.97%</text>
<text x="221.8" y="745.8" text-anchor="middle" font-size="5.85" fill="#1c1c1c">18.58%</text>
<text x="238.1" y="778" text-anchor="middle" font-size="5.85" fill="#1c1c1c">13.89%</text>
<text x="252.8" y="752.9" text-anchor="middle" font-size="5.85" fill="#1c1c1c">17.49%</text>
<text x="269.5" y="848.6" text-anchor="middle" font-size="5.85" fill="#1c1c1c">3.13%</text>
<text x="283.6" y="841.8" text-anchor="middle" font-size="5.85" fill="#1c1c1c">3.83%</text>
<text x="300.9" y="785.8" text-anchor="middle" font-size="5.85" fill="#1c1c1c">12.50%</text>
<text x="311.1" y="760.3" text-anchor="middle" font-size="5.85" fill="#1c1c1c">16.39%</text>
<rect x="194.2" y="732.2" width="131.8" height="142.8" fill="none" stroke="#2a2526" stroke-width="1.45"/>
<line x1="191.8" x2="194.2" y1="737.3" y2="737.3" stroke="#222" stroke-width="1"/>
<text x="190.4" y="740.4" text-anchor="end" font-size="8.8" fill="#2a2627">20</text>
<line x1="191.8" x2="194.2" y1="770.15" y2="770.15" stroke="#222" stroke-width="1"/>
<text x="190.4" y="773.25" text-anchor="end" font-size="8.8" fill="#2a2627">15</text>
<line x1="191.8" x2="194.2" y1="803" y2="803" stroke="#222" stroke-width="1"/>
<text x="190.4" y="806.1" text-anchor="end" font-size="8.8" fill="#2a2627">10</text>
<line x1="191.8" x2="194.2" y1="835.85" y2="835.85" stroke="#222" stroke-width="1"/>
<text x="190.4" y="838.95" text-anchor="end" font-size="8.8" fill="#2a2627">5</text>
<line x1="191.8" x2="194.2" y1="868.7" y2="868.7" stroke="#222" stroke-width="1"/>
<text x="190.4" y="871.8" text-anchor="end" font-size="8.8" fill="#2a2627">0</text>
<line x1="213.1" x2="213.1" y1="875" y2="877.4" stroke="#333" stroke-width="0.9"/>
<text transform="translate(218,885.6) rotate(-29)" text-anchor="end" font-size="8.3" fill="#161314">RTGS0006</text>
<line x1="244.2" x2="244.2" y1="875" y2="877.4" stroke="#333" stroke-width="0.9"/>
<text transform="translate(249.1,885.6) rotate(-29)" text-anchor="end" font-size="8.3" fill="#161314">RTGS0008</text>
<line x1="275.4" x2="275.4" y1="875" y2="877.4" stroke="#333" stroke-width="0.9"/>
<text transform="translate(280.3,885.6) rotate(-29)" text-anchor="end" font-size="8.3" fill="#161314">RTGS0014</text>
<line x1="306.7" x2="306.7" y1="875" y2="877.4" stroke="#333" stroke-width="0.9"/>
<text transform="translate(311.6,885.6) rotate(-29)" text-anchor="end" font-size="8.3" fill="#161314">RTGS0018</text>
<rect x="367.1" y="731.7" width="55.2" height="143.1" fill="#fff"/>
<line x1="367.1" x2="422.3" y1="755.62" y2="755.62" stroke="#e6e1da" stroke-width="1.1"/>
<line x1="367.1" x2="422.3" y1="784.14" y2="784.14" stroke="#e6e1da" stroke-width="1.1"/>
<line x1="367.1" x2="422.3" y1="812.66" y2="812.66" stroke="#e6e1da" stroke-width="1.1"/>
<line x1="367.1" x2="422.3" y1="841.18" y2="841.18" stroke="#e6e1da" stroke-width="1.1"/>
<line x1="367.1" x2="422.3" y1="869.7" y2="869.7" stroke="#e6e1da" stroke-width="1.1"/>
<line x1="381.5" x2="381.5" y1="731.7" y2="874.8" stroke="#e6e1da" stroke-width="1.1"/>
<line x1="406.4" x2="406.4" y1="731.7" y2="874.8" stroke="#e6e1da" stroke-width="1.1"/>
<rect x="370.25" y="768.3" width="11.25" height="101.4" fill="#efbdc4"/>
<rect x="381.5" y="812.8" width="11.25" height="56.9" fill="#b5445b"/>
<rect x="395.15" y="761.3" width="11.25" height="108.4" fill="#efbdc4"/>
<rect x="406.4" y="807.3" width="11.25" height="62.4" fill="#b5445b"/>
<text x="378.2" y="767.2" text-anchor="middle" font-size="5.85" fill="#1c1c1c">35.42%</text>
<text x="386.9" y="811.8" text-anchor="middle" font-size="5.85" fill="#1c1c1c">20.19%</text>
<text x="402.7" y="760.1" text-anchor="middle" font-size="5.85" fill="#1c1c1c">37.15%</text>
<text x="410.8" y="806.1" text-anchor="middle" font-size="5.85" fill="#1c1c1c">22.12%</text>
<rect x="367.1" y="731.7" width="55.2" height="143.1" fill="none" stroke="#2a2526" stroke-width="1.45"/>
<line x1="364.7" x2="367.1" y1="755.62" y2="755.62" stroke="#222" stroke-width="1"/>
<text x="363.4" y="758.72" text-anchor="end" font-size="8.8" fill="#2a2627">40</text>
<line x1="364.7" x2="367.1" y1="784.14" y2="784.14" stroke="#222" stroke-width="1"/>
<text x="363.4" y="787.24" text-anchor="end" font-size="8.8" fill="#2a2627">30</text>
<line x1="364.7" x2="367.1" y1="812.66" y2="812.66" stroke="#222" stroke-width="1"/>
<text x="363.4" y="815.76" text-anchor="end" font-size="8.8" fill="#2a2627">20</text>
<line x1="364.7" x2="367.1" y1="841.18" y2="841.18" stroke="#222" stroke-width="1"/>
<text x="363.4" y="844.28" text-anchor="end" font-size="8.8" fill="#2a2627">10</text>
<line x1="364.7" x2="367.1" y1="869.7" y2="869.7" stroke="#222" stroke-width="1"/>
<text x="363.4" y="872.8" text-anchor="end" font-size="8.8" fill="#2a2627">0</text>
<line x1="381.5" x2="381.5" y1="874.8" y2="877.2" stroke="#333" stroke-width="0.9"/>
<text transform="translate(386.4,885.4) rotate(-29)" text-anchor="end" font-size="8.3" fill="#161314">CPB1088</text>
<line x1="406.4" x2="406.4" y1="874.8" y2="877.2" stroke="#333" stroke-width="0.9"/>
<text transform="translate(411.3,885.4) rotate(-29)" text-anchor="end" font-size="8.3" fill="#161314">CPB1094</text>
<text transform="translate(351.1,810.3) rotate(-90)" text-anchor="middle" font-size="9.3" font-weight="700" fill="#111">prevalence (%)</text>
<rect x="440.4" y="731.7" width="55.9" height="143.1" fill="#fff"/>
<line x1="440.4" x2="496.3" y1="755.62" y2="755.62" stroke="#e6e1da" stroke-width="1.1"/>
<line x1="440.4" x2="496.3" y1="784.14" y2="784.14" stroke="#e6e1da" stroke-width="1.1"/>
<line x1="440.4" x2="496.3" y1="812.66" y2="812.66" stroke="#e6e1da" stroke-width="1.1"/>
<line x1="440.4" x2="496.3" y1="841.18" y2="841.18" stroke="#e6e1da" stroke-width="1.1"/>
<line x1="440.4" x2="496.3" y1="869.7" y2="869.7" stroke="#e6e1da" stroke-width="1.1"/>
<line x1="455" x2="455" y1="731.7" y2="874.8" stroke="#e6e1da" stroke-width="1.1"/>
<line x1="480" x2="480" y1="731.7" y2="874.8" stroke="#e6e1da" stroke-width="1.1"/>
<rect x="443.75" y="768.3" width="11.25" height="101.4" fill="#efbdc4"/>
<rect x="455" y="810.2" width="11.25" height="59.5" fill="#dc8f9b"/>
<rect x="468.75" y="761.7" width="11.25" height="108" fill="#efbdc4"/>
<rect x="480" y="809.1" width="11.25" height="60.6" fill="#dc8f9b"/>
<text x="451.7" y="767.2" text-anchor="middle" font-size="5.85" fill="#1c1c1c">35.42%</text>
<text x="460.1" y="809.7" text-anchor="middle" font-size="5.85" fill="#1c1c1c">21.39%</text>
<text x="476" y="760.3" text-anchor="middle" font-size="5.85" fill="#1c1c1c">37.15%</text>
<text x="483.4" y="807.7" text-anchor="middle" font-size="5.85" fill="#1c1c1c">21.93%</text>
<rect x="440.4" y="731.7" width="55.9" height="143.1" fill="none" stroke="#2a2526" stroke-width="1.45"/>
<line x1="438" x2="440.4" y1="755.62" y2="755.62" stroke="#222" stroke-width="1"/>
<text x="437" y="758.72" text-anchor="end" font-size="8.8" fill="#2a2627">40</text>
<line x1="438" x2="440.4" y1="784.14" y2="784.14" stroke="#222" stroke-width="1"/>
<text x="437" y="787.24" text-anchor="end" font-size="8.8" fill="#2a2627">30</text>
<line x1="438" x2="440.4" y1="812.66" y2="812.66" stroke="#222" stroke-width="1"/>
<text x="437" y="815.76" text-anchor="end" font-size="8.8" fill="#2a2627">20</text>
<line x1="438" x2="440.4" y1="841.18" y2="841.18" stroke="#222" stroke-width="1"/>
<text x="437" y="844.28" text-anchor="end" font-size="8.8" fill="#2a2627">10</text>
<line x1="438" x2="440.4" y1="869.7" y2="869.7" stroke="#222" stroke-width="1"/>
<text x="437" y="872.8" text-anchor="end" font-size="8.8" fill="#2a2627">0</text>
<line x1="455" x2="455" y1="874.8" y2="877.2" stroke="#333" stroke-width="0.9"/>
<text transform="translate(459.9,885.4) rotate(-29)" text-anchor="end" font-size="8.3" fill="#161314">CPB1088</text>
<line x1="480" x2="480" y1="874.8" y2="877.2" stroke="#333" stroke-width="0.9"/>
<text transform="translate(484.9,885.4) rotate(-29)" text-anchor="end" font-size="8.3" fill="#161314">CPB1094</text>
<rect x="535.1" y="731.6" width="55.2" height="143.1" fill="#fff"/>
<line x1="535.1" x2="590.3" y1="754.26" y2="754.26" stroke="#e6e1da" stroke-width="1.1"/>
<line x1="535.1" x2="590.3" y1="783.12" y2="783.12" stroke="#e6e1da" stroke-width="1.1"/>
<line x1="535.1" x2="590.3" y1="811.98" y2="811.98" stroke="#e6e1da" stroke-width="1.1"/>
<line x1="535.1" x2="590.3" y1="840.84" y2="840.84" stroke="#e6e1da" stroke-width="1.1"/>
<line x1="535.1" x2="590.3" y1="869.7" y2="869.7" stroke="#e6e1da" stroke-width="1.1"/>
<line x1="549.8" x2="549.8" y1="731.6" y2="874.7" stroke="#e6e1da" stroke-width="1.1"/>
<line x1="574.6" x2="574.6" y1="731.6" y2="874.7" stroke="#e6e1da" stroke-width="1.1"/>
<rect x="538.55" y="811.2" width="11.25" height="58.5" fill="#efbdc4"/>
<rect x="549.8" y="739.2" width="11.25" height="130.5" fill="#b5445b"/>
<rect x="563.35" y="812.8" width="11.25" height="56.9" fill="#efbdc4"/>
<rect x="574.6" y="741.3" width="11.25" height="128.4" fill="#b5445b"/>
<text x="545.8" y="809.8" text-anchor="middle" font-size="5.85" fill="#1c1c1c">20.49%</text>
<text x="556.3" y="739.2" text-anchor="middle" font-size="5.85" fill="#1c1c1c">45.39%</text>
<text x="570.2" y="812.4" text-anchor="middle" font-size="5.85" fill="#1c1c1c">19.79%</text>
<text x="579" y="740.3" text-anchor="middle" font-size="5.85" fill="#1c1c1c">44.74%</text>
<rect x="535.1" y="731.6" width="55.2" height="143.1" fill="none" stroke="#2a2526" stroke-width="1.45"/>
<line x1="532.7" x2="535.1" y1="754.26" y2="754.26" stroke="#222" stroke-width="1"/>
<text x="531.5" y="757.36" text-anchor="end" font-size="8.8" fill="#2a2627">40</text>
<line x1="532.7" x2="535.1" y1="783.12" y2="783.12" stroke="#222" stroke-width="1"/>
<text x="531.5" y="786.22" text-anchor="end" font-size="8.8" fill="#2a2627">30</text>
<line x1="532.7" x2="535.1" y1="811.98" y2="811.98" stroke="#222" stroke-width="1"/>
<text x="531.5" y="815.08" text-anchor="end" font-size="8.8" fill="#2a2627">20</text>
<line x1="532.7" x2="535.1" y1="840.84" y2="840.84" stroke="#222" stroke-width="1"/>
<text x="531.5" y="843.94" text-anchor="end" font-size="8.8" fill="#2a2627">10</text>
<line x1="532.7" x2="535.1" y1="869.7" y2="869.7" stroke="#222" stroke-width="1"/>
<text x="531.5" y="872.8" text-anchor="end" font-size="8.8" fill="#2a2627">0</text>
<line x1="549.8" x2="549.8" y1="874.7" y2="877.1" stroke="#333" stroke-width="0.9"/>
<text transform="translate(554.7,885.3) rotate(-29)" text-anchor="end" font-size="8.3" fill="#161314">RTGS0004</text>
<line x1="574.6" x2="574.6" y1="874.7" y2="877.1" stroke="#333" stroke-width="0.9"/>
<text transform="translate(579.5,885.3) rotate(-29)" text-anchor="end" font-size="8.3" fill="#161314">RTGS0005</text>
<text transform="translate(518.1,810.3) rotate(-90)" text-anchor="middle" font-size="9.3" font-weight="700" fill="#111">prevalence (%)</text>
<rect x="606.6" y="731.4" width="55.7" height="143.3" fill="#fff"/>
<line x1="606.6" x2="662.3" y1="854.35" y2="854.35" stroke="#f0ede9" stroke-width="0.6"/>
<line x1="606.6" x2="662.3" y1="823.05" y2="823.05" stroke="#f0ede9" stroke-width="0.6"/>
<line x1="606.6" x2="662.3" y1="791.75" y2="791.75" stroke="#f0ede9" stroke-width="0.6"/>
<line x1="606.6" x2="662.3" y1="760.45" y2="760.45" stroke="#f0ede9" stroke-width="0.6"/>
<line x1="606.6" x2="662.3" y1="744.8" y2="744.8" stroke="#e6e1da" stroke-width="1.1"/>
<line x1="606.6" x2="662.3" y1="776.1" y2="776.1" stroke="#e6e1da" stroke-width="1.1"/>
<line x1="606.6" x2="662.3" y1="807.4" y2="807.4" stroke="#e6e1da" stroke-width="1.1"/>
<line x1="606.6" x2="662.3" y1="838.7" y2="838.7" stroke="#e6e1da" stroke-width="1.1"/>
<line x1="606.6" x2="662.3" y1="870" y2="870" stroke="#e6e1da" stroke-width="1.1"/>
<line x1="621.4" x2="621.4" y1="731.4" y2="874.7" stroke="#e6e1da" stroke-width="1.1"/>
<line x1="646.5" x2="646.5" y1="731.4" y2="874.7" stroke="#e6e1da" stroke-width="1.1"/>
<rect x="610.1" y="742.3" width="11.3" height="127.7" fill="#efbdc4"/>
<rect x="621.4" y="740.3" width="11.3" height="129.7" fill="#dc8f9b"/>
<rect x="635.2" y="746.4" width="11.3" height="123.6" fill="#efbdc4"/>
<rect x="646.5" y="747.4" width="11.3" height="122.6" fill="#dc8f9b"/>
<text x="618.4" y="750.9" text-anchor="middle" font-size="5.85" fill="#1c1c1c">20.49%</text>
<text x="628.1" y="738.8" text-anchor="middle" font-size="5.85" fill="#1c1c1c">20.77%</text>
<text x="642.1" y="755.6" text-anchor="middle" font-size="5.85" fill="#1c1c1c">19.79%</text>
<text x="649.9" y="746" text-anchor="middle" font-size="5.85" fill="#1c1c1c">19.67%</text>
<rect x="606.6" y="731.4" width="55.7" height="143.3" fill="none" stroke="#2a2526" stroke-width="1.45"/>
<line x1="604.2" x2="606.6" y1="744.8" y2="744.8" stroke="#222" stroke-width="1"/>
<text x="602.8" y="747.9" text-anchor="end" font-size="8.8" fill="#2a2627">20</text>
<line x1="604.2" x2="606.6" y1="776.1" y2="776.1" stroke="#222" stroke-width="1"/>
<text x="602.8" y="779.2" text-anchor="end" font-size="8.8" fill="#2a2627">15</text>
<line x1="604.2" x2="606.6" y1="807.4" y2="807.4" stroke="#222" stroke-width="1"/>
<text x="602.8" y="810.5" text-anchor="end" font-size="8.8" fill="#2a2627">10</text>
<line x1="604.2" x2="606.6" y1="838.7" y2="838.7" stroke="#222" stroke-width="1"/>
<text x="602.8" y="841.8" text-anchor="end" font-size="8.8" fill="#2a2627">5</text>
<line x1="604.2" x2="606.6" y1="870" y2="870" stroke="#222" stroke-width="1"/>
<text x="602.8" y="873.1" text-anchor="end" font-size="8.8" fill="#2a2627">0</text>
<line x1="621.4" x2="621.4" y1="874.7" y2="877.1" stroke="#333" stroke-width="0.9"/>
<text transform="translate(626.3,885.3) rotate(-29)" text-anchor="end" font-size="8.3" fill="#161314">RTGS0004</text>
<line x1="646.5" x2="646.5" y1="874.7" y2="877.1" stroke="#333" stroke-width="0.9"/>
<text transform="translate(651.4,885.3) rotate(-29)" text-anchor="end" font-size="8.3" fill="#161314">RTGS0005</text>
<text x="100.4" y="921.6" text-anchor="middle" font-size="9.5" font-weight="700" font-style="italic" fill="#111">M. gnavus</text>
<text x="253.5" y="921.6" text-anchor="middle" font-size="9.5" font-weight="700" font-style="italic" fill="#111">M. gnavus</text>
<text x="411.5" y="921.6" text-anchor="middle" font-size="9.5" font-weight="700" fill="#111"><tspan font-style="italic">M. gnavus</tspan> phage</text>
<text x="596" y="921.6" text-anchor="middle" font-size="9.5" font-weight="700" font-style="italic" fill="#111">D. longicatena</text>
</g>
</svg></body></html>
